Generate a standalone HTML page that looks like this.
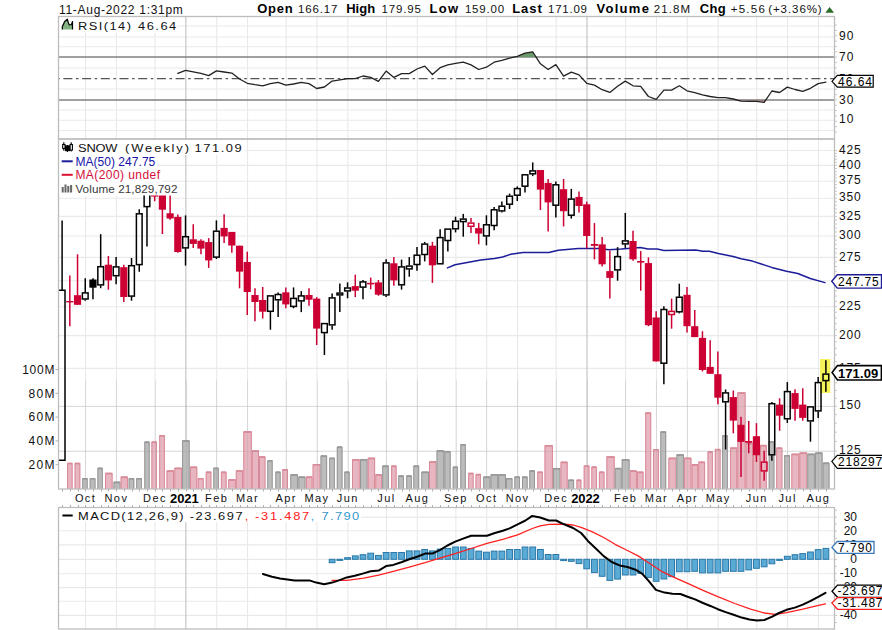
<!DOCTYPE html>
<html><head><meta charset="utf-8"><style>
html,body{margin:0;padding:0;background:#fff;width:882px;height:630px;overflow:hidden}
svg{display:block}
svg{font-family:"Liberation Sans",sans-serif}
</style></head><body>
<svg width="882" height="630" viewBox="0 0 882 630">
<rect width="882" height="630" fill="#fff"/>
<line x1="58.5" y1="26" x2="834.5" y2="26" stroke="#e9e9e9" stroke-width="1.1" />
<line x1="58.5" y1="37" x2="834.5" y2="37" stroke="#e9e9e9" stroke-width="1.1" />
<line x1="58.5" y1="46.8" x2="834.5" y2="46.8" stroke="#e9e9e9" stroke-width="1.1" />
<line x1="58.5" y1="68" x2="834.5" y2="68" stroke="#e9e9e9" stroke-width="1.1" />
<line x1="58.5" y1="89" x2="834.5" y2="89" stroke="#e9e9e9" stroke-width="1.1" />
<line x1="58.5" y1="110" x2="834.5" y2="110" stroke="#e9e9e9" stroke-width="1.1" />
<line x1="58.5" y1="120.3" x2="834.5" y2="120.3" stroke="#e9e9e9" stroke-width="1.1" />
<line x1="58.5" y1="130.5" x2="834.5" y2="130.5" stroke="#e9e9e9" stroke-width="1.1" />
<line x1="85.55" y1="16.5" x2="85.55" y2="139" stroke="#e9e9e9" stroke-width="1.1" />
<line x1="116.4" y1="16.5" x2="116.4" y2="139" stroke="#e9e9e9" stroke-width="1.1" />
<line x1="154.98" y1="16.5" x2="154.98" y2="139" stroke="#e9e9e9" stroke-width="1.1" />
<line x1="185.84" y1="16.5" x2="185.84" y2="139" stroke="#c6c6c6" stroke-width="1.2" />
<line x1="216.7" y1="16.5" x2="216.7" y2="139" stroke="#e9e9e9" stroke-width="1.1" />
<line x1="247.56" y1="16.5" x2="247.56" y2="139" stroke="#e9e9e9" stroke-width="1.1" />
<line x1="286.13" y1="16.5" x2="286.13" y2="139" stroke="#e9e9e9" stroke-width="1.1" />
<line x1="317" y1="16.5" x2="317" y2="139" stroke="#e9e9e9" stroke-width="1.1" />
<line x1="347.86" y1="16.5" x2="347.86" y2="139" stroke="#e9e9e9" stroke-width="1.1" />
<line x1="386.43" y1="16.5" x2="386.43" y2="139" stroke="#e9e9e9" stroke-width="1.1" />
<line x1="417.29" y1="16.5" x2="417.29" y2="139" stroke="#e9e9e9" stroke-width="1.1" />
<line x1="455.87" y1="16.5" x2="455.87" y2="139" stroke="#e9e9e9" stroke-width="1.1" />
<line x1="486.73" y1="16.5" x2="486.73" y2="139" stroke="#e9e9e9" stroke-width="1.1" />
<line x1="517.58" y1="16.5" x2="517.58" y2="139" stroke="#e9e9e9" stroke-width="1.1" />
<line x1="556.16" y1="16.5" x2="556.16" y2="139" stroke="#e9e9e9" stroke-width="1.1" />
<line x1="587.02" y1="16.5" x2="587.02" y2="139" stroke="#c6c6c6" stroke-width="1.2" />
<line x1="625.59" y1="16.5" x2="625.59" y2="139" stroke="#e9e9e9" stroke-width="1.1" />
<line x1="656.45" y1="16.5" x2="656.45" y2="139" stroke="#e9e9e9" stroke-width="1.1" />
<line x1="687.31" y1="16.5" x2="687.31" y2="139" stroke="#e9e9e9" stroke-width="1.1" />
<line x1="718.17" y1="16.5" x2="718.17" y2="139" stroke="#e9e9e9" stroke-width="1.1" />
<line x1="756.75" y1="16.5" x2="756.75" y2="139" stroke="#e9e9e9" stroke-width="1.1" />
<line x1="787.61" y1="16.5" x2="787.61" y2="139" stroke="#e9e9e9" stroke-width="1.1" />
<line x1="818.47" y1="16.5" x2="818.47" y2="139" stroke="#e9e9e9" stroke-width="1.1" />
<rect x="59" y="17" width="118" height="16" fill="#fff" stroke="none" stroke-width="1" />
<line x1="58.5" y1="57.1" x2="834.5" y2="57.1" stroke="#808080" stroke-width="1.5" />
<line x1="58.5" y1="99.9" x2="834.5" y2="99.9" stroke="#808080" stroke-width="1.5" />
<line x1="58.5" y1="78.6" x2="834.5" y2="78.6" stroke="#555" stroke-width="1.3" stroke-dasharray="9,3.6,2.5,3.6" stroke-dashoffset="13.8"/>
<polygon points="513,57.1 517.6,56.3 524.4,53.2 532.3,51.8 535,57.1" fill="#6a9a6a"/>
<polygon points="733,99.9 740.7,100.8 749,100.8 756.8,100.8 764.5,102.4 766,99.9" fill="#a06060" opacity="0.6"/>
<polyline points="177.82,73.4 185.54,70.4 193.25,71.8 200.97,73.4 208.69,75.6 216.4,70.9 224.11,72 231.83,73.1 239.54,79 247.26,83.3 254.97,84.7 262.69,85.8 270.41,83.6 278.12,82.4 285.83,85.1 293.55,84 301.26,82.4 308.98,83.6 316.69,88.5 324.41,87 332.12,81.1 339.84,79.9 347.56,78.6 355.27,78.6 362.99,76 370.7,77.4 378.42,81.3 386.13,71.1 393.85,77.4 401.56,73.6 409.28,73.6 416.99,69 424.71,66.1 432.42,74.5 440.13,67.7 447.85,64.9 455.56,63.4 463.28,62.2 471,64.9 478.71,69.5 486.43,67.2 494.14,62.2 501.86,60.4 509.57,58.1 517.28,56.3 525,53.2 532.72,51.8 540.43,63.8 548.14,69.5 555.86,64.6 563.57,76.1 571.29,72.2 579,74.9 586.72,83.3 594.44,85.1 602.15,89.7 609.87,92.4 617.58,86.3 625.29,81.1 633.01,85.8 640.73,86.3 648.44,96.5 656.15,99.4 663.87,90.1 671.59,90.1 679.3,85.8 687.01,90.8 694.73,92.6 702.45,94.9 710.16,96.5 717.88,97.6 725.59,97.6 733.31,99 741.02,101.2 748.74,101.3 756.45,101.3 764.16,102.4 771.88,91 779.6,92.5 787.31,87.1 795.02,89.5 802.74,91.3 810.46,88.3 818.17,83.6 825.88,82.1" fill="none" stroke="#222" stroke-width="1.3" stroke-linejoin="round" stroke-linecap="round" />
<line x1="58.5" y1="150.5" x2="834.5" y2="150.5" stroke="#e9e9e9" stroke-width="1.1" />
<line x1="58.5" y1="165.39" x2="834.5" y2="165.39" stroke="#e9e9e9" stroke-width="1.1" />
<line x1="58.5" y1="181.24" x2="834.5" y2="181.24" stroke="#e9e9e9" stroke-width="1.1" />
<line x1="58.5" y1="198.18" x2="834.5" y2="198.18" stroke="#e9e9e9" stroke-width="1.1" />
<line x1="58.5" y1="216.39" x2="834.5" y2="216.39" stroke="#e9e9e9" stroke-width="1.1" />
<line x1="58.5" y1="236.04" x2="834.5" y2="236.04" stroke="#e9e9e9" stroke-width="1.1" />
<line x1="58.5" y1="257.41" x2="834.5" y2="257.41" stroke="#e9e9e9" stroke-width="1.1" />
<line x1="58.5" y1="280.82" x2="834.5" y2="280.82" stroke="#e9e9e9" stroke-width="1.1" />
<line x1="58.5" y1="306.7" x2="834.5" y2="306.7" stroke="#e9e9e9" stroke-width="1.1" />
<line x1="58.5" y1="335.63" x2="834.5" y2="335.63" stroke="#e9e9e9" stroke-width="1.1" />
<line x1="58.5" y1="368.42" x2="834.5" y2="368.42" stroke="#e9e9e9" stroke-width="1.1" />
<line x1="58.5" y1="406.28" x2="834.5" y2="406.28" stroke="#e9e9e9" stroke-width="1.1" />
<line x1="58.5" y1="451.06" x2="834.5" y2="451.06" stroke="#e9e9e9" stroke-width="1.1" />
<line x1="85.55" y1="139" x2="85.55" y2="489" stroke="#e9e9e9" stroke-width="1.1" />
<line x1="116.4" y1="139" x2="116.4" y2="489" stroke="#e9e9e9" stroke-width="1.1" />
<line x1="154.98" y1="139" x2="154.98" y2="489" stroke="#e9e9e9" stroke-width="1.1" />
<line x1="185.84" y1="139" x2="185.84" y2="489" stroke="#c6c6c6" stroke-width="1.2" />
<line x1="216.7" y1="139" x2="216.7" y2="489" stroke="#e9e9e9" stroke-width="1.1" />
<line x1="247.56" y1="139" x2="247.56" y2="489" stroke="#e9e9e9" stroke-width="1.1" />
<line x1="286.13" y1="139" x2="286.13" y2="489" stroke="#e9e9e9" stroke-width="1.1" />
<line x1="317" y1="139" x2="317" y2="489" stroke="#e9e9e9" stroke-width="1.1" />
<line x1="347.86" y1="139" x2="347.86" y2="489" stroke="#e9e9e9" stroke-width="1.1" />
<line x1="386.43" y1="139" x2="386.43" y2="489" stroke="#e9e9e9" stroke-width="1.1" />
<line x1="417.29" y1="139" x2="417.29" y2="489" stroke="#e9e9e9" stroke-width="1.1" />
<line x1="455.87" y1="139" x2="455.87" y2="489" stroke="#e9e9e9" stroke-width="1.1" />
<line x1="486.73" y1="139" x2="486.73" y2="489" stroke="#e9e9e9" stroke-width="1.1" />
<line x1="517.58" y1="139" x2="517.58" y2="489" stroke="#e9e9e9" stroke-width="1.1" />
<line x1="556.16" y1="139" x2="556.16" y2="489" stroke="#e9e9e9" stroke-width="1.1" />
<line x1="587.02" y1="139" x2="587.02" y2="489" stroke="#c6c6c6" stroke-width="1.2" />
<line x1="625.59" y1="139" x2="625.59" y2="489" stroke="#e9e9e9" stroke-width="1.1" />
<line x1="656.45" y1="139" x2="656.45" y2="489" stroke="#e9e9e9" stroke-width="1.1" />
<line x1="687.31" y1="139" x2="687.31" y2="489" stroke="#e9e9e9" stroke-width="1.1" />
<line x1="718.17" y1="139" x2="718.17" y2="489" stroke="#e9e9e9" stroke-width="1.1" />
<line x1="756.75" y1="139" x2="756.75" y2="489" stroke="#e9e9e9" stroke-width="1.1" />
<line x1="787.61" y1="139" x2="787.61" y2="489" stroke="#e9e9e9" stroke-width="1.1" />
<line x1="818.47" y1="139" x2="818.47" y2="489" stroke="#e9e9e9" stroke-width="1.1" />
<rect x="67.1" y="462.8" width="5.5" height="26.2" fill="#e8b6c0" stroke="none" stroke-width="1" />
<path d="M67.6,489 V463.3 H72.1 V489" fill="none" stroke="#d98a98" stroke-width="1"/>
<line x1="67.6" y1="463.6" x2="72.1" y2="463.6" stroke="#d98a98" stroke-width="1.6" />
<rect x="74.6" y="462.8" width="5.7" height="26.2" fill="#e8b6c0" stroke="none" stroke-width="1" />
<path d="M75.1,489 V463.3 H79.8 V489" fill="none" stroke="#d98a98" stroke-width="1"/>
<line x1="75.1" y1="463.6" x2="79.8" y2="463.6" stroke="#d98a98" stroke-width="1.6" />
<rect x="82.2" y="478" width="5.5" height="11" fill="#bcbcbc" stroke="none" stroke-width="1" />
<path d="M82.7,489 V478.5 H87.2 V489" fill="none" stroke="#989898" stroke-width="1"/>
<line x1="82.7" y1="478.8" x2="87.2" y2="478.8" stroke="#989898" stroke-width="1.6" />
<rect x="89.7" y="478" width="5.8" height="11" fill="#bcbcbc" stroke="none" stroke-width="1" />
<path d="M90.2,489 V478.5 H95 V489" fill="none" stroke="#989898" stroke-width="1"/>
<line x1="90.2" y1="478.8" x2="95" y2="478.8" stroke="#989898" stroke-width="1.6" />
<rect x="97.4" y="467.7" width="5.4" height="21.3" fill="#bcbcbc" stroke="none" stroke-width="1" />
<path d="M97.9,489 V468.2 H102.3 V489" fill="none" stroke="#989898" stroke-width="1"/>
<line x1="97.9" y1="468.5" x2="102.3" y2="468.5" stroke="#989898" stroke-width="1.6" />
<rect x="105" y="472.8" width="7.6" height="16.2" fill="#e8b6c0" stroke="none" stroke-width="1" />
<path d="M105.5,489 V473.3 H112.1 V489" fill="none" stroke="#d98a98" stroke-width="1"/>
<line x1="105.5" y1="473.6" x2="112.1" y2="473.6" stroke="#d98a98" stroke-width="1.6" />
<rect x="113.4" y="481.7" width="7.2" height="7.3" fill="#bcbcbc" stroke="none" stroke-width="1" />
<path d="M113.9,489 V482.2 H120.1 V489" fill="none" stroke="#989898" stroke-width="1"/>
<line x1="113.9" y1="482.5" x2="120.1" y2="482.5" stroke="#989898" stroke-width="1.6" />
<rect x="120.6" y="476.5" width="7.3" height="12.5" fill="#e8b6c0" stroke="none" stroke-width="1" />
<path d="M121.1,489 V477 H127.4 V489" fill="none" stroke="#d98a98" stroke-width="1"/>
<line x1="121.1" y1="477.3" x2="127.4" y2="477.3" stroke="#d98a98" stroke-width="1.6" />
<rect x="128.6" y="478" width="5.7" height="11" fill="#bcbcbc" stroke="none" stroke-width="1" />
<path d="M129.1,489 V478.5 H133.8 V489" fill="none" stroke="#989898" stroke-width="1"/>
<line x1="129.1" y1="478.8" x2="133.8" y2="478.8" stroke="#989898" stroke-width="1.6" />
<rect x="136.2" y="478" width="5.7" height="11" fill="#bcbcbc" stroke="none" stroke-width="1" />
<path d="M136.7,489 V478.5 H141.4 V489" fill="none" stroke="#989898" stroke-width="1"/>
<line x1="136.7" y1="478.8" x2="141.4" y2="478.8" stroke="#989898" stroke-width="1.6" />
<rect x="144.3" y="441.5" width="5.4" height="47.5" fill="#bcbcbc" stroke="none" stroke-width="1" />
<path d="M144.8,489 V442 H149.2 V489" fill="none" stroke="#989898" stroke-width="1"/>
<line x1="144.8" y1="442.3" x2="149.2" y2="442.3" stroke="#989898" stroke-width="1.6" />
<rect x="151.4" y="441.5" width="5.5" height="47.5" fill="#e8b6c0" stroke="none" stroke-width="1" />
<path d="M151.9,489 V442 H156.4 V489" fill="none" stroke="#d98a98" stroke-width="1"/>
<line x1="151.9" y1="442.3" x2="156.4" y2="442.3" stroke="#d98a98" stroke-width="1.6" />
<rect x="159.2" y="435.1" width="5.7" height="53.9" fill="#e8b6c0" stroke="none" stroke-width="1" />
<path d="M159.7,489 V435.6 H164.4 V489" fill="none" stroke="#d98a98" stroke-width="1"/>
<line x1="159.7" y1="435.9" x2="164.4" y2="435.9" stroke="#d98a98" stroke-width="1.6" />
<rect x="166.5" y="470.3" width="7.5" height="18.7" fill="#e8b6c0" stroke="none" stroke-width="1" />
<path d="M167,489 V470.8 H173.5 V489" fill="none" stroke="#d98a98" stroke-width="1"/>
<line x1="167" y1="471.1" x2="173.5" y2="471.1" stroke="#d98a98" stroke-width="1.6" />
<rect x="174.3" y="467.7" width="7.8" height="21.3" fill="#e8b6c0" stroke="none" stroke-width="1" />
<path d="M174.8,489 V468.2 H181.6 V489" fill="none" stroke="#d98a98" stroke-width="1"/>
<line x1="174.8" y1="468.5" x2="181.6" y2="468.5" stroke="#d98a98" stroke-width="1.6" />
<rect x="182.1" y="440.3" width="7.6" height="48.7" fill="#bcbcbc" stroke="none" stroke-width="1" />
<path d="M182.6,489 V440.8 H189.2 V489" fill="none" stroke="#989898" stroke-width="1"/>
<line x1="182.6" y1="441.1" x2="189.2" y2="441.1" stroke="#989898" stroke-width="1.6" />
<rect x="190" y="466.6" width="7.3" height="22.4" fill="#e8b6c0" stroke="none" stroke-width="1" />
<path d="M190.5,489 V467.1 H196.8 V489" fill="none" stroke="#d98a98" stroke-width="1"/>
<line x1="190.5" y1="467.4" x2="196.8" y2="467.4" stroke="#d98a98" stroke-width="1.6" />
<rect x="197.7" y="478" width="6" height="11" fill="#e8b6c0" stroke="none" stroke-width="1" />
<path d="M198.2,489 V478.5 H203.2 V489" fill="none" stroke="#d98a98" stroke-width="1"/>
<line x1="198.2" y1="478.8" x2="203.2" y2="478.8" stroke="#d98a98" stroke-width="1.6" />
<rect x="205.7" y="471.6" width="5.7" height="17.4" fill="#e8b6c0" stroke="none" stroke-width="1" />
<path d="M206.2,489 V472.1 H210.9 V489" fill="none" stroke="#d98a98" stroke-width="1"/>
<line x1="206.2" y1="472.4" x2="210.9" y2="472.4" stroke="#d98a98" stroke-width="1.6" />
<rect x="213.3" y="467.7" width="5.5" height="21.3" fill="#bcbcbc" stroke="none" stroke-width="1" />
<path d="M213.8,489 V468.2 H218.3 V489" fill="none" stroke="#989898" stroke-width="1"/>
<line x1="213.8" y1="468.5" x2="218.3" y2="468.5" stroke="#989898" stroke-width="1.6" />
<rect x="220.9" y="471.6" width="5.7" height="17.4" fill="#e8b6c0" stroke="none" stroke-width="1" />
<path d="M221.4,489 V472.1 H226.1 V489" fill="none" stroke="#d98a98" stroke-width="1"/>
<line x1="221.4" y1="472.4" x2="226.1" y2="472.4" stroke="#d98a98" stroke-width="1.6" />
<rect x="228.2" y="479.2" width="7.6" height="9.8" fill="#e8b6c0" stroke="none" stroke-width="1" />
<path d="M228.7,489 V479.7 H235.3 V489" fill="none" stroke="#d98a98" stroke-width="1"/>
<line x1="228.7" y1="480" x2="235.3" y2="480" stroke="#d98a98" stroke-width="1.6" />
<rect x="235.8" y="470.3" width="7.2" height="18.7" fill="#e8b6c0" stroke="none" stroke-width="1" />
<path d="M236.3,489 V470.8 H242.5 V489" fill="none" stroke="#d98a98" stroke-width="1"/>
<line x1="236.3" y1="471.1" x2="242.5" y2="471.1" stroke="#d98a98" stroke-width="1.6" />
<rect x="243.3" y="431.2" width="8.5" height="57.8" fill="#e8b6c0" stroke="none" stroke-width="1" />
<path d="M243.8,489 V431.7 H251.3 V489" fill="none" stroke="#d98a98" stroke-width="1"/>
<line x1="243.8" y1="432" x2="251.3" y2="432" stroke="#d98a98" stroke-width="1.6" />
<rect x="251.8" y="450.3" width="7.2" height="38.7" fill="#e8b6c0" stroke="none" stroke-width="1" />
<path d="M252.3,489 V450.8 H258.5 V489" fill="none" stroke="#d98a98" stroke-width="1"/>
<line x1="252.3" y1="451.1" x2="258.5" y2="451.1" stroke="#d98a98" stroke-width="1.6" />
<rect x="259" y="456.3" width="6.5" height="32.7" fill="#e8b6c0" stroke="none" stroke-width="1" />
<path d="M259.5,489 V456.8 H265 V489" fill="none" stroke="#d98a98" stroke-width="1"/>
<line x1="259.5" y1="457.1" x2="265" y2="457.1" stroke="#d98a98" stroke-width="1.6" />
<rect x="267.3" y="460.2" width="5.4" height="28.8" fill="#bcbcbc" stroke="none" stroke-width="1" />
<path d="M267.8,489 V460.7 H272.2 V489" fill="none" stroke="#989898" stroke-width="1"/>
<line x1="267.8" y1="461" x2="272.2" y2="461" stroke="#989898" stroke-width="1.6" />
<rect x="275.3" y="471.6" width="5.4" height="17.4" fill="#bcbcbc" stroke="none" stroke-width="1" />
<path d="M275.8,489 V472.1 H280.2 V489" fill="none" stroke="#989898" stroke-width="1"/>
<line x1="275.8" y1="472.4" x2="280.2" y2="472.4" stroke="#989898" stroke-width="1.6" />
<rect x="282.3" y="469.1" width="5.7" height="19.9" fill="#e8b6c0" stroke="none" stroke-width="1" />
<path d="M282.8,489 V469.6 H287.5 V489" fill="none" stroke="#d98a98" stroke-width="1"/>
<line x1="282.8" y1="469.9" x2="287.5" y2="469.9" stroke="#d98a98" stroke-width="1.6" />
<rect x="290.3" y="474.2" width="7.6" height="14.8" fill="#bcbcbc" stroke="none" stroke-width="1" />
<path d="M290.8,489 V474.7 H297.4 V489" fill="none" stroke="#989898" stroke-width="1"/>
<line x1="290.8" y1="475" x2="297.4" y2="475" stroke="#989898" stroke-width="1.6" />
<rect x="298.3" y="476.5" width="7.2" height="12.5" fill="#bcbcbc" stroke="none" stroke-width="1" />
<path d="M298.8,489 V477 H305 V489" fill="none" stroke="#989898" stroke-width="1"/>
<line x1="298.8" y1="477.3" x2="305" y2="477.3" stroke="#989898" stroke-width="1.6" />
<rect x="305.9" y="476.5" width="6.7" height="12.5" fill="#e8b6c0" stroke="none" stroke-width="1" />
<path d="M306.4,489 V477 H312.1 V489" fill="none" stroke="#d98a98" stroke-width="1"/>
<line x1="306.4" y1="477.3" x2="312.1" y2="477.3" stroke="#d98a98" stroke-width="1.6" />
<rect x="312.6" y="464" width="7.9" height="25" fill="#e8b6c0" stroke="none" stroke-width="1" />
<path d="M313.1,489 V464.5 H320 V489" fill="none" stroke="#d98a98" stroke-width="1"/>
<line x1="313.1" y1="464.8" x2="320" y2="464.8" stroke="#d98a98" stroke-width="1.6" />
<rect x="320.5" y="455.4" width="6.6" height="33.6" fill="#bcbcbc" stroke="none" stroke-width="1" />
<path d="M321,489 V455.9 H326.6 V489" fill="none" stroke="#989898" stroke-width="1"/>
<line x1="321" y1="456.2" x2="326.6" y2="456.2" stroke="#989898" stroke-width="1.6" />
<rect x="329.2" y="457.7" width="5.7" height="31.3" fill="#bcbcbc" stroke="none" stroke-width="1" />
<path d="M329.7,489 V458.2 H334.4 V489" fill="none" stroke="#989898" stroke-width="1"/>
<line x1="329.7" y1="458.5" x2="334.4" y2="458.5" stroke="#989898" stroke-width="1.6" />
<rect x="336.8" y="446.5" width="5.7" height="42.5" fill="#bcbcbc" stroke="none" stroke-width="1" />
<path d="M337.3,489 V447 H342 V489" fill="none" stroke="#989898" stroke-width="1"/>
<line x1="337.3" y1="447.3" x2="342" y2="447.3" stroke="#989898" stroke-width="1.6" />
<rect x="344.3" y="471.6" width="5.4" height="17.4" fill="#bcbcbc" stroke="none" stroke-width="1" />
<path d="M344.8,489 V472.1 H349.2 V489" fill="none" stroke="#989898" stroke-width="1"/>
<line x1="344.8" y1="472.4" x2="349.2" y2="472.4" stroke="#989898" stroke-width="1.6" />
<rect x="352" y="459.1" width="7.7" height="29.9" fill="#e8b6c0" stroke="none" stroke-width="1" />
<path d="M352.5,489 V459.6 H359.2 V489" fill="none" stroke="#d98a98" stroke-width="1"/>
<line x1="352.5" y1="459.9" x2="359.2" y2="459.9" stroke="#d98a98" stroke-width="1.6" />
<rect x="360" y="459.1" width="7.7" height="29.9" fill="#bcbcbc" stroke="none" stroke-width="1" />
<path d="M360.5,489 V459.6 H367.2 V489" fill="none" stroke="#989898" stroke-width="1"/>
<line x1="360.5" y1="459.9" x2="367.2" y2="459.9" stroke="#989898" stroke-width="1.6" />
<rect x="367.7" y="457.7" width="7.4" height="31.3" fill="#e8b6c0" stroke="none" stroke-width="1" />
<path d="M368.2,489 V458.2 H374.6 V489" fill="none" stroke="#d98a98" stroke-width="1"/>
<line x1="368.2" y1="458.5" x2="374.6" y2="458.5" stroke="#d98a98" stroke-width="1.6" />
<rect x="375.3" y="474.2" width="6.9" height="14.8" fill="#e8b6c0" stroke="none" stroke-width="1" />
<path d="M375.8,489 V474.7 H381.7 V489" fill="none" stroke="#d98a98" stroke-width="1"/>
<line x1="375.8" y1="475" x2="381.7" y2="475" stroke="#d98a98" stroke-width="1.6" />
<rect x="382.2" y="465.5" width="6.6" height="23.5" fill="#bcbcbc" stroke="none" stroke-width="1" />
<path d="M382.7,489 V466 H388.3 V489" fill="none" stroke="#989898" stroke-width="1"/>
<line x1="382.7" y1="466.3" x2="388.3" y2="466.3" stroke="#989898" stroke-width="1.6" />
<rect x="391.1" y="465.5" width="5.5" height="23.5" fill="#e8b6c0" stroke="none" stroke-width="1" />
<path d="M391.6,489 V466 H396.1 V489" fill="none" stroke="#d98a98" stroke-width="1"/>
<line x1="391.6" y1="466.3" x2="396.1" y2="466.3" stroke="#d98a98" stroke-width="1.6" />
<rect x="398.2" y="475.4" width="5.7" height="13.6" fill="#bcbcbc" stroke="none" stroke-width="1" />
<path d="M398.7,489 V475.9 H403.4 V489" fill="none" stroke="#989898" stroke-width="1"/>
<line x1="398.7" y1="476.2" x2="403.4" y2="476.2" stroke="#989898" stroke-width="1.6" />
<rect x="406.2" y="475.4" width="5.7" height="13.6" fill="#bcbcbc" stroke="none" stroke-width="1" />
<path d="M406.7,489 V475.9 H411.4 V489" fill="none" stroke="#989898" stroke-width="1"/>
<line x1="406.7" y1="476.2" x2="411.4" y2="476.2" stroke="#989898" stroke-width="1.6" />
<rect x="413.3" y="465.5" width="5.9" height="23.5" fill="#bcbcbc" stroke="none" stroke-width="1" />
<path d="M413.8,489 V466 H418.7 V489" fill="none" stroke="#989898" stroke-width="1"/>
<line x1="413.8" y1="466.3" x2="418.7" y2="466.3" stroke="#989898" stroke-width="1.6" />
<rect x="421.3" y="471.6" width="7.7" height="17.4" fill="#bcbcbc" stroke="none" stroke-width="1" />
<path d="M421.8,489 V472.1 H428.5 V489" fill="none" stroke="#989898" stroke-width="1"/>
<line x1="421.8" y1="472.4" x2="428.5" y2="472.4" stroke="#989898" stroke-width="1.6" />
<rect x="429" y="461.3" width="7.5" height="27.7" fill="#e8b6c0" stroke="none" stroke-width="1" />
<path d="M429.5,489 V461.8 H436 V489" fill="none" stroke="#d98a98" stroke-width="1"/>
<line x1="429.5" y1="462.1" x2="436" y2="462.1" stroke="#d98a98" stroke-width="1.6" />
<rect x="436.5" y="450.3" width="7.8" height="38.7" fill="#bcbcbc" stroke="none" stroke-width="1" />
<path d="M437,489 V450.8 H443.8 V489" fill="none" stroke="#989898" stroke-width="1"/>
<line x1="437" y1="451.1" x2="443.8" y2="451.1" stroke="#989898" stroke-width="1.6" />
<rect x="444.3" y="451.1" width="6.4" height="37.9" fill="#bcbcbc" stroke="none" stroke-width="1" />
<path d="M444.8,489 V451.6 H450.2 V489" fill="none" stroke="#989898" stroke-width="1"/>
<line x1="444.8" y1="451.9" x2="450.2" y2="451.9" stroke="#989898" stroke-width="1.6" />
<rect x="452.7" y="466.6" width="5.3" height="22.4" fill="#bcbcbc" stroke="none" stroke-width="1" />
<path d="M453.2,489 V467.1 H457.5 V489" fill="none" stroke="#989898" stroke-width="1"/>
<line x1="453.2" y1="467.4" x2="457.5" y2="467.4" stroke="#989898" stroke-width="1.6" />
<rect x="460.3" y="444" width="5.5" height="45" fill="#bcbcbc" stroke="none" stroke-width="1" />
<path d="M460.8,489 V444.5 H465.3 V489" fill="none" stroke="#989898" stroke-width="1"/>
<line x1="460.8" y1="444.8" x2="465.3" y2="444.8" stroke="#989898" stroke-width="1.6" />
<rect x="468.1" y="472.8" width="5.5" height="16.2" fill="#e8b6c0" stroke="none" stroke-width="1" />
<path d="M468.6,489 V473.3 H473.1 V489" fill="none" stroke="#d98a98" stroke-width="1"/>
<line x1="468.6" y1="473.6" x2="473.1" y2="473.6" stroke="#d98a98" stroke-width="1.6" />
<rect x="475.5" y="473.9" width="5.4" height="15.1" fill="#e8b6c0" stroke="none" stroke-width="1" />
<path d="M476,489 V474.4 H480.4 V489" fill="none" stroke="#d98a98" stroke-width="1"/>
<line x1="476" y1="474.7" x2="480.4" y2="474.7" stroke="#d98a98" stroke-width="1.6" />
<rect x="483.2" y="476.5" width="7.3" height="12.5" fill="#bcbcbc" stroke="none" stroke-width="1" />
<path d="M483.7,489 V477 H490 V489" fill="none" stroke="#989898" stroke-width="1"/>
<line x1="483.7" y1="477.3" x2="490" y2="477.3" stroke="#989898" stroke-width="1.6" />
<rect x="490.5" y="474.2" width="7.7" height="14.8" fill="#bcbcbc" stroke="none" stroke-width="1" />
<path d="M491,489 V474.7 H497.7 V489" fill="none" stroke="#989898" stroke-width="1"/>
<line x1="491" y1="475" x2="497.7" y2="475" stroke="#989898" stroke-width="1.6" />
<rect x="498.2" y="474.2" width="7.8" height="14.8" fill="#bcbcbc" stroke="none" stroke-width="1" />
<path d="M498.7,489 V474.7 H505.5 V489" fill="none" stroke="#989898" stroke-width="1"/>
<line x1="498.7" y1="475" x2="505.5" y2="475" stroke="#989898" stroke-width="1.6" />
<rect x="506" y="478" width="6.5" height="11" fill="#bcbcbc" stroke="none" stroke-width="1" />
<path d="M506.5,489 V478.5 H512 V489" fill="none" stroke="#989898" stroke-width="1"/>
<line x1="506.5" y1="478.8" x2="512" y2="478.8" stroke="#989898" stroke-width="1.6" />
<rect x="514.3" y="476.5" width="5.7" height="12.5" fill="#bcbcbc" stroke="none" stroke-width="1" />
<path d="M514.8,489 V477 H519.5 V489" fill="none" stroke="#989898" stroke-width="1"/>
<line x1="514.8" y1="477.3" x2="519.5" y2="477.3" stroke="#989898" stroke-width="1.6" />
<rect x="522" y="476.5" width="5.7" height="12.5" fill="#bcbcbc" stroke="none" stroke-width="1" />
<path d="M522.5,489 V477 H527.2 V489" fill="none" stroke="#989898" stroke-width="1"/>
<line x1="522.5" y1="477.3" x2="527.2" y2="477.3" stroke="#989898" stroke-width="1.6" />
<rect x="529.3" y="470.3" width="5.7" height="18.7" fill="#bcbcbc" stroke="none" stroke-width="1" />
<path d="M529.8,489 V470.8 H534.5 V489" fill="none" stroke="#989898" stroke-width="1"/>
<line x1="529.8" y1="471.1" x2="534.5" y2="471.1" stroke="#989898" stroke-width="1.6" />
<rect x="537.3" y="471.6" width="5.5" height="17.4" fill="#e8b6c0" stroke="none" stroke-width="1" />
<path d="M537.8,489 V472.1 H542.3 V489" fill="none" stroke="#d98a98" stroke-width="1"/>
<line x1="537.8" y1="472.4" x2="542.3" y2="472.4" stroke="#d98a98" stroke-width="1.6" />
<rect x="544.5" y="445.1" width="8.4" height="43.9" fill="#e8b6c0" stroke="none" stroke-width="1" />
<path d="M545,489 V445.6 H552.4 V489" fill="none" stroke="#d98a98" stroke-width="1"/>
<line x1="545" y1="445.9" x2="552.4" y2="445.9" stroke="#d98a98" stroke-width="1.6" />
<rect x="552.9" y="468" width="7.6" height="21" fill="#bcbcbc" stroke="none" stroke-width="1" />
<path d="M553.4,489 V468.5 H560 V489" fill="none" stroke="#989898" stroke-width="1"/>
<line x1="553.4" y1="468.8" x2="560" y2="468.8" stroke="#989898" stroke-width="1.6" />
<rect x="560.5" y="461.7" width="7.2" height="27.3" fill="#e8b6c0" stroke="none" stroke-width="1" />
<path d="M561,489 V462.2 H567.2 V489" fill="none" stroke="#d98a98" stroke-width="1"/>
<line x1="561" y1="462.5" x2="567.2" y2="462.5" stroke="#d98a98" stroke-width="1.6" />
<rect x="568.2" y="479.6" width="5.9" height="9.4" fill="#bcbcbc" stroke="none" stroke-width="1" />
<path d="M568.7,489 V480.1 H573.6 V489" fill="none" stroke="#989898" stroke-width="1"/>
<line x1="568.7" y1="480.4" x2="573.6" y2="480.4" stroke="#989898" stroke-width="1.6" />
<rect x="576.4" y="479.6" width="5" height="9.4" fill="#e8b6c0" stroke="none" stroke-width="1" />
<path d="M576.9,489 V480.1 H580.9 V489" fill="none" stroke="#d98a98" stroke-width="1"/>
<line x1="576.9" y1="480.4" x2="580.9" y2="480.4" stroke="#d98a98" stroke-width="1.6" />
<rect x="583.7" y="465.5" width="5.8" height="23.5" fill="#e8b6c0" stroke="none" stroke-width="1" />
<path d="M584.2,489 V466 H589 V489" fill="none" stroke="#d98a98" stroke-width="1"/>
<line x1="584.2" y1="466.3" x2="589" y2="466.3" stroke="#d98a98" stroke-width="1.6" />
<rect x="591.3" y="466.5" width="5.6" height="22.5" fill="#e8b6c0" stroke="none" stroke-width="1" />
<path d="M591.8,489 V467 H596.4 V489" fill="none" stroke="#d98a98" stroke-width="1"/>
<line x1="591.8" y1="467.3" x2="596.4" y2="467.3" stroke="#d98a98" stroke-width="1.6" />
<rect x="598.9" y="471.6" width="5.6" height="17.4" fill="#e8b6c0" stroke="none" stroke-width="1" />
<path d="M599.4,489 V472.1 H604 V489" fill="none" stroke="#d98a98" stroke-width="1"/>
<line x1="599.4" y1="472.4" x2="604" y2="472.4" stroke="#d98a98" stroke-width="1.6" />
<rect x="606.4" y="456.3" width="8.3" height="32.7" fill="#e8b6c0" stroke="none" stroke-width="1" />
<path d="M606.9,489 V456.8 H614.2 V489" fill="none" stroke="#d98a98" stroke-width="1"/>
<line x1="606.9" y1="457.1" x2="614.2" y2="457.1" stroke="#d98a98" stroke-width="1.6" />
<rect x="614.7" y="467.9" width="7" height="21.1" fill="#bcbcbc" stroke="none" stroke-width="1" />
<path d="M615.2,489 V468.4 H621.2 V489" fill="none" stroke="#989898" stroke-width="1"/>
<line x1="615.2" y1="468.7" x2="621.2" y2="468.7" stroke="#989898" stroke-width="1.6" />
<rect x="621.7" y="459.2" width="7.9" height="29.8" fill="#bcbcbc" stroke="none" stroke-width="1" />
<path d="M622.2,489 V459.7 H629.1 V489" fill="none" stroke="#989898" stroke-width="1"/>
<line x1="622.2" y1="460" x2="629.1" y2="460" stroke="#989898" stroke-width="1.6" />
<rect x="629.6" y="470.4" width="7.3" height="18.6" fill="#e8b6c0" stroke="none" stroke-width="1" />
<path d="M630.1,489 V470.9 H636.4 V489" fill="none" stroke="#d98a98" stroke-width="1"/>
<line x1="630.1" y1="471.2" x2="636.4" y2="471.2" stroke="#d98a98" stroke-width="1.6" />
<rect x="636.9" y="471.6" width="6.7" height="17.4" fill="#e8b6c0" stroke="none" stroke-width="1" />
<path d="M637.4,489 V472.1 H643.1 V489" fill="none" stroke="#d98a98" stroke-width="1"/>
<line x1="637.4" y1="472.4" x2="643.1" y2="472.4" stroke="#d98a98" stroke-width="1.6" />
<rect x="645.2" y="412.4" width="6" height="76.6" fill="#e8b6c0" stroke="none" stroke-width="1" />
<path d="M645.7,489 V412.9 H650.7 V489" fill="none" stroke="#d98a98" stroke-width="1"/>
<line x1="645.7" y1="413.2" x2="650.7" y2="413.2" stroke="#d98a98" stroke-width="1.6" />
<rect x="653" y="449" width="5.9" height="40" fill="#e8b6c0" stroke="none" stroke-width="1" />
<path d="M653.5,489 V449.5 H658.4 V489" fill="none" stroke="#d98a98" stroke-width="1"/>
<line x1="653.5" y1="449.8" x2="658.4" y2="449.8" stroke="#d98a98" stroke-width="1.6" />
<rect x="660.3" y="431.4" width="5.9" height="57.6" fill="#bcbcbc" stroke="none" stroke-width="1" />
<path d="M660.8,489 V431.9 H665.7 V489" fill="none" stroke="#989898" stroke-width="1"/>
<line x1="660.8" y1="432.2" x2="665.7" y2="432.2" stroke="#989898" stroke-width="1.6" />
<rect x="668.4" y="457.7" width="8" height="31.3" fill="#e8b6c0" stroke="none" stroke-width="1" />
<path d="M668.9,489 V458.2 H675.9 V489" fill="none" stroke="#d98a98" stroke-width="1"/>
<line x1="668.9" y1="458.5" x2="675.9" y2="458.5" stroke="#d98a98" stroke-width="1.6" />
<rect x="676.4" y="454.3" width="7.5" height="34.7" fill="#bcbcbc" stroke="none" stroke-width="1" />
<path d="M676.9,489 V454.8 H683.4 V489" fill="none" stroke="#989898" stroke-width="1"/>
<line x1="676.9" y1="455.1" x2="683.4" y2="455.1" stroke="#989898" stroke-width="1.6" />
<rect x="683.9" y="457.7" width="7.6" height="31.3" fill="#e8b6c0" stroke="none" stroke-width="1" />
<path d="M684.4,489 V458.2 H691 V489" fill="none" stroke="#d98a98" stroke-width="1"/>
<line x1="684.4" y1="458.5" x2="691" y2="458.5" stroke="#d98a98" stroke-width="1.6" />
<rect x="691.5" y="464.2" width="6.8" height="24.8" fill="#e8b6c0" stroke="none" stroke-width="1" />
<path d="M692,489 V464.7 H697.8 V489" fill="none" stroke="#d98a98" stroke-width="1"/>
<line x1="692" y1="465" x2="697.8" y2="465" stroke="#d98a98" stroke-width="1.6" />
<rect x="698.3" y="461.6" width="6.8" height="27.4" fill="#e8b6c0" stroke="none" stroke-width="1" />
<path d="M698.8,489 V462.1 H704.6 V489" fill="none" stroke="#d98a98" stroke-width="1"/>
<line x1="698.8" y1="462.4" x2="704.6" y2="462.4" stroke="#d98a98" stroke-width="1.6" />
<rect x="707.5" y="451.4" width="5.4" height="37.6" fill="#e8b6c0" stroke="none" stroke-width="1" />
<path d="M708,489 V451.9 H712.4 V489" fill="none" stroke="#d98a98" stroke-width="1"/>
<line x1="708" y1="452.2" x2="712.4" y2="452.2" stroke="#d98a98" stroke-width="1.6" />
<rect x="714.8" y="448.9" width="5.8" height="40.1" fill="#e8b6c0" stroke="none" stroke-width="1" />
<path d="M715.3,489 V449.4 H720.1 V489" fill="none" stroke="#d98a98" stroke-width="1"/>
<line x1="715.3" y1="449.7" x2="720.1" y2="449.7" stroke="#d98a98" stroke-width="1.6" />
<rect x="722.1" y="435.3" width="5.8" height="53.7" fill="#bcbcbc" stroke="none" stroke-width="1" />
<path d="M722.6,489 V435.8 H727.4 V489" fill="none" stroke="#989898" stroke-width="1"/>
<line x1="722.6" y1="436.1" x2="727.4" y2="436.1" stroke="#989898" stroke-width="1.6" />
<rect x="730" y="447.5" width="7.3" height="41.5" fill="#e8b6c0" stroke="none" stroke-width="1" />
<path d="M730.5,489 V448 H736.8 V489" fill="none" stroke="#d98a98" stroke-width="1"/>
<line x1="730.5" y1="448.3" x2="736.8" y2="448.3" stroke="#d98a98" stroke-width="1.6" />
<rect x="737.3" y="392.3" width="8.3" height="96.7" fill="#e8b6c0" stroke="none" stroke-width="1" />
<path d="M737.8,489 V392.8 H745.1 V489" fill="none" stroke="#d98a98" stroke-width="1"/>
<line x1="737.8" y1="393.1" x2="745.1" y2="393.1" stroke="#d98a98" stroke-width="1.6" />
<rect x="745.6" y="443" width="7.5" height="46" fill="#e8b6c0" stroke="none" stroke-width="1" />
<path d="M746.1,489 V443.5 H752.6 V489" fill="none" stroke="#d98a98" stroke-width="1"/>
<line x1="746.1" y1="443.8" x2="752.6" y2="443.8" stroke="#d98a98" stroke-width="1.6" />
<rect x="753.1" y="444" width="6.9" height="45" fill="#e8b6c0" stroke="none" stroke-width="1" />
<path d="M753.6,489 V444.5 H759.5 V489" fill="none" stroke="#d98a98" stroke-width="1"/>
<line x1="753.6" y1="444.8" x2="759.5" y2="444.8" stroke="#d98a98" stroke-width="1.6" />
<rect x="760" y="444.9" width="6.8" height="44.1" fill="#e8b6c0" stroke="none" stroke-width="1" />
<path d="M760.5,489 V445.4 H766.3 V489" fill="none" stroke="#d98a98" stroke-width="1"/>
<line x1="760.5" y1="445.7" x2="766.3" y2="445.7" stroke="#d98a98" stroke-width="1.6" />
<rect x="768.7" y="441.3" width="5.7" height="47.7" fill="#bcbcbc" stroke="none" stroke-width="1" />
<path d="M769.2,489 V441.8 H773.9 V489" fill="none" stroke="#989898" stroke-width="1"/>
<line x1="769.2" y1="442.1" x2="773.9" y2="442.1" stroke="#989898" stroke-width="1.6" />
<rect x="776.2" y="447.5" width="6.2" height="41.5" fill="#e8b6c0" stroke="none" stroke-width="1" />
<path d="M776.7,489 V448 H781.9 V489" fill="none" stroke="#d98a98" stroke-width="1"/>
<line x1="776.7" y1="448.3" x2="781.9" y2="448.3" stroke="#d98a98" stroke-width="1.6" />
<rect x="784.2" y="455" width="5.8" height="34" fill="#bcbcbc" stroke="none" stroke-width="1" />
<path d="M784.7,489 V455.5 H789.5 V489" fill="none" stroke="#989898" stroke-width="1"/>
<line x1="784.7" y1="455.8" x2="789.5" y2="455.8" stroke="#989898" stroke-width="1.6" />
<rect x="791.3" y="453.7" width="8" height="35.3" fill="#e8b6c0" stroke="none" stroke-width="1" />
<path d="M791.8,489 V454.2 H798.8 V489" fill="none" stroke="#d98a98" stroke-width="1"/>
<line x1="791.8" y1="454.5" x2="798.8" y2="454.5" stroke="#d98a98" stroke-width="1.6" />
<rect x="799.3" y="452.5" width="8" height="36.5" fill="#e8b6c0" stroke="none" stroke-width="1" />
<path d="M799.8,489 V453 H806.8 V489" fill="none" stroke="#d98a98" stroke-width="1"/>
<line x1="799.8" y1="453.3" x2="806.8" y2="453.3" stroke="#d98a98" stroke-width="1.6" />
<rect x="807.3" y="453.7" width="7.6" height="35.3" fill="#bcbcbc" stroke="none" stroke-width="1" />
<path d="M807.8,489 V454.2 H814.4 V489" fill="none" stroke="#989898" stroke-width="1"/>
<line x1="807.8" y1="454.5" x2="814.4" y2="454.5" stroke="#989898" stroke-width="1.6" />
<rect x="814.9" y="452.5" width="7.7" height="36.5" fill="#bcbcbc" stroke="none" stroke-width="1" />
<path d="M815.4,489 V453 H822.1 V489" fill="none" stroke="#989898" stroke-width="1"/>
<line x1="815.4" y1="453.3" x2="822.1" y2="453.3" stroke="#989898" stroke-width="1.6" />
<rect x="822.6" y="462.6" width="6.9" height="26.4" fill="#bcbcbc" stroke="none" stroke-width="1" />
<path d="M823.1,489 V463.1 H829 V489" fill="none" stroke="#989898" stroke-width="1"/>
<line x1="823.1" y1="463.4" x2="829" y2="463.4" stroke="#989898" stroke-width="1.6" />
<line x1="58.5" y1="406.5" x2="834.5" y2="406.5" stroke="#999" stroke-width="0.6" opacity="0.35"/>
<line x1="58.5" y1="451.5" x2="834.5" y2="451.5" stroke="#999" stroke-width="0.6" opacity="0.35"/>
<line x1="85.5" y1="380" x2="85.5" y2="489" stroke="#999" stroke-width="0.6" opacity="0.35"/>
<line x1="116.5" y1="380" x2="116.5" y2="489" stroke="#999" stroke-width="0.6" opacity="0.35"/>
<line x1="155.5" y1="380" x2="155.5" y2="489" stroke="#999" stroke-width="0.6" opacity="0.35"/>
<line x1="186.5" y1="380" x2="186.5" y2="489" stroke="#999" stroke-width="0.6" opacity="0.35"/>
<line x1="216.5" y1="380" x2="216.5" y2="489" stroke="#999" stroke-width="0.6" opacity="0.35"/>
<line x1="247.5" y1="380" x2="247.5" y2="489" stroke="#999" stroke-width="0.6" opacity="0.35"/>
<line x1="286.5" y1="380" x2="286.5" y2="489" stroke="#999" stroke-width="0.6" opacity="0.35"/>
<line x1="317.5" y1="380" x2="317.5" y2="489" stroke="#999" stroke-width="0.6" opacity="0.35"/>
<line x1="348.5" y1="380" x2="348.5" y2="489" stroke="#999" stroke-width="0.6" opacity="0.35"/>
<line x1="386.5" y1="380" x2="386.5" y2="489" stroke="#999" stroke-width="0.6" opacity="0.35"/>
<line x1="417.5" y1="380" x2="417.5" y2="489" stroke="#999" stroke-width="0.6" opacity="0.35"/>
<line x1="456.5" y1="380" x2="456.5" y2="489" stroke="#999" stroke-width="0.6" opacity="0.35"/>
<line x1="486.5" y1="380" x2="486.5" y2="489" stroke="#999" stroke-width="0.6" opacity="0.35"/>
<line x1="517.5" y1="380" x2="517.5" y2="489" stroke="#999" stroke-width="0.6" opacity="0.35"/>
<line x1="556.5" y1="380" x2="556.5" y2="489" stroke="#999" stroke-width="0.6" opacity="0.35"/>
<line x1="587.5" y1="380" x2="587.5" y2="489" stroke="#999" stroke-width="0.6" opacity="0.35"/>
<line x1="625.5" y1="380" x2="625.5" y2="489" stroke="#999" stroke-width="0.6" opacity="0.35"/>
<line x1="656.5" y1="380" x2="656.5" y2="489" stroke="#999" stroke-width="0.6" opacity="0.35"/>
<line x1="687.5" y1="380" x2="687.5" y2="489" stroke="#999" stroke-width="0.6" opacity="0.35"/>
<line x1="718.5" y1="380" x2="718.5" y2="489" stroke="#999" stroke-width="0.6" opacity="0.35"/>
<line x1="756.5" y1="380" x2="756.5" y2="489" stroke="#999" stroke-width="0.6" opacity="0.35"/>
<line x1="787.5" y1="380" x2="787.5" y2="489" stroke="#999" stroke-width="0.6" opacity="0.35"/>
<line x1="818.5" y1="380" x2="818.5" y2="489" stroke="#999" stroke-width="0.6" opacity="0.35"/>
<polyline points="447.5,267.9 455,264.8 467.2,262.4 480.8,260.1 494.4,258.4 502.6,257 510.7,254.3 523,252.5 548.8,252.5 558.4,250.2 578.3,248.6 598.7,248.6 608.9,249.7 621.4,249.1 640.2,247.5 648.1,249.1 657.2,249.1 664,250.4 695.8,250 702.6,251.3 709.4,251.3 718.4,253.6 733.2,256.5 741.1,258.8 752.4,261.1 771.7,267.4 786.5,271.3 797.8,273.5 810.3,278.5 825,282.6" fill="none" stroke="#1c1c98" stroke-width="1.5" stroke-linejoin="round" stroke-linecap="round" />
<rect x="820" y="359" width="10.3" height="34" fill="#f6f25a" stroke="none" stroke-width="1" />
<line x1="62.1" y1="220.5" x2="62.1" y2="290.3" stroke="#000" stroke-width="1.5" />
<path d="M59,290.3 H65 V460.3 H59" fill="none" stroke="#000" stroke-width="1.5"/>
<line x1="69.81" y1="275.6" x2="69.81" y2="326.2" stroke="#cc0033" stroke-width="1.5" />
<rect x="66.22" y="301" width="7.2" height="1.4" fill="#cc0033" stroke="none" stroke-width="1" />
<line x1="77.53" y1="254.3" x2="77.53" y2="304.8" stroke="#cc0033" stroke-width="1.5" />
<rect x="73.93" y="295.2" width="7.2" height="9.6" fill="#cc0033" stroke="none" stroke-width="1" />
<line x1="85.25" y1="278.2" x2="85.25" y2="292.4" stroke="#000" stroke-width="1.5" />
<line x1="85.25" y1="299.5" x2="85.25" y2="300.8" stroke="#000" stroke-width="1.5" />
<rect x="82.4" y="292.9" width="5.7" height="6.1" fill="none" stroke="#000" stroke-width="1.5" />
<line x1="92.96" y1="278.3" x2="92.96" y2="299.3" stroke="#000" stroke-width="1.5" />
<rect x="89.36" y="279.5" width="7.2" height="8.2" fill="#000" stroke="none" stroke-width="1" />
<line x1="100.68" y1="234.2" x2="100.68" y2="266.2" stroke="#000" stroke-width="1.5" />
<line x1="100.68" y1="285.4" x2="100.68" y2="288.2" stroke="#000" stroke-width="1.5" />
<rect x="97.83" y="266.7" width="5.7" height="18.2" fill="none" stroke="#000" stroke-width="1.5" />
<line x1="108.39" y1="256" x2="108.39" y2="289.7" stroke="#cc0033" stroke-width="1.5" />
<rect x="104.79" y="264.7" width="7.2" height="15.7" fill="#cc0033" stroke="none" stroke-width="1" />
<line x1="116.1" y1="257.1" x2="116.1" y2="266.4" stroke="#000" stroke-width="1.5" />
<line x1="116.1" y1="276.2" x2="116.1" y2="284.3" stroke="#000" stroke-width="1.5" />
<rect x="113.25" y="266.9" width="5.7" height="8.8" fill="none" stroke="#000" stroke-width="1.5" />
<line x1="123.82" y1="264.7" x2="123.82" y2="302.1" stroke="#cc0033" stroke-width="1.5" />
<rect x="120.22" y="267.2" width="7.2" height="29.8" fill="#cc0033" stroke="none" stroke-width="1" />
<line x1="131.53" y1="258" x2="131.53" y2="265.2" stroke="#000" stroke-width="1.5" />
<line x1="131.53" y1="296.6" x2="131.53" y2="300.7" stroke="#000" stroke-width="1.5" />
<rect x="128.69" y="265.7" width="5.7" height="30.4" fill="none" stroke="#000" stroke-width="1.5" />
<line x1="139.25" y1="209.2" x2="139.25" y2="213.3" stroke="#000" stroke-width="1.5" />
<line x1="139.25" y1="265.1" x2="139.25" y2="271.7" stroke="#000" stroke-width="1.5" />
<rect x="136.4" y="213.8" width="5.7" height="50.8" fill="none" stroke="#000" stroke-width="1.5" />
<line x1="146.97" y1="207.1" x2="146.97" y2="246.5" stroke="#000" stroke-width="1.5" />
<rect x="144.12" y="186.5" width="5.7" height="20.1" fill="none" stroke="#000" stroke-width="1.5" />
<line x1="154.68" y1="186" x2="154.68" y2="201.2" stroke="#cc0033" stroke-width="1.5" />
<rect x="151.08" y="188" width="7.2" height="8.6" fill="#cc0033" stroke="none" stroke-width="1" />
<line x1="162.4" y1="186" x2="162.4" y2="234" stroke="#cc0033" stroke-width="1.5" />
<rect x="158.8" y="186" width="7.2" height="23.7" fill="#cc0033" stroke="none" stroke-width="1" />
<line x1="170.11" y1="186" x2="170.11" y2="219.8" stroke="#cc0033" stroke-width="1.5" />
<rect x="166.51" y="213.3" width="7.2" height="5.2" fill="#cc0033" stroke="none" stroke-width="1" />
<line x1="177.82" y1="214.5" x2="177.82" y2="252.8" stroke="#cc0033" stroke-width="1.5" />
<rect x="174.22" y="216.9" width="7.2" height="35.1" fill="#cc0033" stroke="none" stroke-width="1" />
<line x1="185.54" y1="215.4" x2="185.54" y2="236.2" stroke="#000" stroke-width="1.5" />
<line x1="185.54" y1="248.4" x2="185.54" y2="265.6" stroke="#000" stroke-width="1.5" />
<rect x="182.69" y="236.7" width="5.7" height="11.2" fill="none" stroke="#000" stroke-width="1.5" />
<line x1="193.25" y1="224.3" x2="193.25" y2="247.9" stroke="#cc0033" stroke-width="1.5" />
<rect x="189.66" y="239.3" width="7.2" height="4.6" fill="#cc0033" stroke="none" stroke-width="1" />
<line x1="200.97" y1="239.3" x2="200.97" y2="254.3" stroke="#cc0033" stroke-width="1.5" />
<rect x="197.37" y="240.7" width="7.2" height="7.9" fill="#cc0033" stroke="none" stroke-width="1" />
<line x1="208.69" y1="238.1" x2="208.69" y2="267.9" stroke="#cc0033" stroke-width="1.5" />
<rect x="205.09" y="242.1" width="7.2" height="18.3" fill="#cc0033" stroke="none" stroke-width="1" />
<line x1="216.4" y1="220.4" x2="216.4" y2="230.7" stroke="#000" stroke-width="1.5" />
<line x1="216.4" y1="257.6" x2="216.4" y2="259" stroke="#000" stroke-width="1.5" />
<rect x="213.55" y="231.2" width="5.7" height="25.9" fill="none" stroke="#000" stroke-width="1.5" />
<line x1="224.11" y1="214.3" x2="224.11" y2="242.9" stroke="#cc0033" stroke-width="1.5" />
<rect x="220.51" y="227.9" width="7.2" height="8.5" fill="#cc0033" stroke="none" stroke-width="1" />
<line x1="231.83" y1="231.9" x2="231.83" y2="252.7" stroke="#cc0033" stroke-width="1.5" />
<rect x="228.23" y="231.9" width="7.2" height="13.6" fill="#cc0033" stroke="none" stroke-width="1" />
<line x1="239.54" y1="245.7" x2="239.54" y2="288.3" stroke="#cc0033" stroke-width="1.5" />
<rect x="235.94" y="245.7" width="7.2" height="25.9" fill="#cc0033" stroke="none" stroke-width="1" />
<line x1="247.26" y1="251.7" x2="247.26" y2="315" stroke="#cc0033" stroke-width="1.5" />
<rect x="243.66" y="262" width="7.2" height="30" fill="#cc0033" stroke="none" stroke-width="1" />
<line x1="254.97" y1="288.3" x2="254.97" y2="321.3" stroke="#cc0033" stroke-width="1.5" />
<rect x="251.38" y="295" width="7.2" height="7" fill="#cc0033" stroke="none" stroke-width="1" />
<line x1="262.69" y1="287" x2="262.69" y2="318.5" stroke="#cc0033" stroke-width="1.5" />
<rect x="259.09" y="300" width="7.2" height="11.7" fill="#cc0033" stroke="none" stroke-width="1" />
<line x1="270.41" y1="311.8" x2="270.41" y2="329.7" stroke="#000" stroke-width="1.5" />
<rect x="267.56" y="295.9" width="5.7" height="15.4" fill="none" stroke="#000" stroke-width="1.5" />
<line x1="278.12" y1="292.6" x2="278.12" y2="294" stroke="#000" stroke-width="1.5" />
<line x1="278.12" y1="300.3" x2="278.12" y2="317.1" stroke="#000" stroke-width="1.5" />
<rect x="275.27" y="294.5" width="5.7" height="5.3" fill="none" stroke="#000" stroke-width="1.5" />
<line x1="285.83" y1="287.4" x2="285.83" y2="308.3" stroke="#cc0033" stroke-width="1.5" />
<rect x="282.23" y="292.3" width="7.2" height="12.1" fill="#cc0033" stroke="none" stroke-width="1" />
<line x1="293.55" y1="287.4" x2="293.55" y2="297.9" stroke="#000" stroke-width="1.5" />
<line x1="293.55" y1="306.9" x2="293.55" y2="308.3" stroke="#000" stroke-width="1.5" />
<rect x="290.7" y="298.4" width="5.7" height="8" fill="none" stroke="#000" stroke-width="1.5" />
<line x1="301.26" y1="291.1" x2="301.26" y2="295.4" stroke="#000" stroke-width="1.5" />
<line x1="301.26" y1="301.4" x2="301.26" y2="312.1" stroke="#000" stroke-width="1.5" />
<rect x="298.41" y="295.9" width="5.7" height="5" fill="none" stroke="#000" stroke-width="1.5" />
<line x1="308.98" y1="288.3" x2="308.98" y2="305.7" stroke="#cc0033" stroke-width="1.5" />
<rect x="305.38" y="295" width="7.2" height="4.7" fill="#cc0033" stroke="none" stroke-width="1" />
<line x1="316.69" y1="297.1" x2="316.69" y2="345" stroke="#cc0033" stroke-width="1.5" />
<rect x="313.09" y="298.6" width="7.2" height="30" fill="#cc0033" stroke="none" stroke-width="1" />
<line x1="324.41" y1="333.1" x2="324.41" y2="355" stroke="#000" stroke-width="1.5" />
<rect x="321.56" y="323.6" width="5.7" height="9" fill="none" stroke="#000" stroke-width="1.5" />
<line x1="332.12" y1="293.6" x2="332.12" y2="297.4" stroke="#000" stroke-width="1.5" />
<line x1="332.12" y1="325.4" x2="332.12" y2="329.7" stroke="#000" stroke-width="1.5" />
<rect x="329.27" y="297.9" width="5.7" height="27" fill="none" stroke="#000" stroke-width="1.5" />
<line x1="339.84" y1="283.6" x2="339.84" y2="292.6" stroke="#000" stroke-width="1.5" />
<line x1="339.84" y1="295.4" x2="339.84" y2="312.1" stroke="#000" stroke-width="1.5" />
<rect x="336.99" y="293.1" width="5.7" height="1.8" fill="none" stroke="#000" stroke-width="1.5" />
<line x1="347.56" y1="282.3" x2="347.56" y2="287.5" stroke="#000" stroke-width="1.5" />
<line x1="347.56" y1="291.4" x2="347.56" y2="298.3" stroke="#000" stroke-width="1.5" />
<rect x="344.7" y="288" width="5.7" height="2.9" fill="none" stroke="#000" stroke-width="1.5" />
<line x1="355.27" y1="274.7" x2="355.27" y2="297.1" stroke="#cc0033" stroke-width="1.5" />
<rect x="351.67" y="286.1" width="7.2" height="4.6" fill="#cc0033" stroke="none" stroke-width="1" />
<line x1="362.99" y1="280" x2="362.99" y2="281.4" stroke="#000" stroke-width="1.5" />
<line x1="362.99" y1="287.6" x2="362.99" y2="299.3" stroke="#000" stroke-width="1.5" />
<rect x="360.13" y="281.9" width="5.7" height="5.2" fill="none" stroke="#000" stroke-width="1.5" />
<line x1="370.7" y1="277.6" x2="370.7" y2="289.3" stroke="#cc0033" stroke-width="1.5" />
<rect x="367.1" y="282.8" width="7.2" height="1.6" fill="#cc0033" stroke="none" stroke-width="1" />
<line x1="378.42" y1="280" x2="378.42" y2="295.7" stroke="#cc0033" stroke-width="1.5" />
<rect x="374.81" y="282.4" width="7.2" height="12.3" fill="#cc0033" stroke="none" stroke-width="1" />
<line x1="386.13" y1="259.3" x2="386.13" y2="262.4" stroke="#000" stroke-width="1.5" />
<line x1="386.13" y1="295.4" x2="386.13" y2="297.1" stroke="#000" stroke-width="1.5" />
<rect x="383.28" y="262.9" width="5.7" height="32" fill="none" stroke="#000" stroke-width="1.5" />
<line x1="393.85" y1="257.1" x2="393.85" y2="285.7" stroke="#cc0033" stroke-width="1.5" />
<rect x="390.25" y="263.3" width="7.2" height="17.1" fill="#cc0033" stroke="none" stroke-width="1" />
<line x1="401.56" y1="259.6" x2="401.56" y2="266.4" stroke="#000" stroke-width="1.5" />
<line x1="401.56" y1="285.3" x2="401.56" y2="289.6" stroke="#000" stroke-width="1.5" />
<rect x="398.71" y="266.9" width="5.7" height="17.9" fill="none" stroke="#000" stroke-width="1.5" />
<line x1="409.28" y1="257.1" x2="409.28" y2="265.6" stroke="#000" stroke-width="1.5" />
<line x1="409.28" y1="269.4" x2="409.28" y2="276.7" stroke="#000" stroke-width="1.5" />
<rect x="406.43" y="266.1" width="5.7" height="2.8" fill="none" stroke="#000" stroke-width="1.5" />
<line x1="416.99" y1="247.1" x2="416.99" y2="254.7" stroke="#000" stroke-width="1.5" />
<line x1="416.99" y1="265" x2="416.99" y2="270.7" stroke="#000" stroke-width="1.5" />
<rect x="414.14" y="255.2" width="5.7" height="9.3" fill="none" stroke="#000" stroke-width="1.5" />
<line x1="424.71" y1="241.9" x2="424.71" y2="243.6" stroke="#000" stroke-width="1.5" />
<line x1="424.71" y1="255" x2="424.71" y2="261.4" stroke="#000" stroke-width="1.5" />
<rect x="421.86" y="244.1" width="5.7" height="10.4" fill="none" stroke="#000" stroke-width="1.5" />
<line x1="432.42" y1="241.9" x2="432.42" y2="282.9" stroke="#cc0033" stroke-width="1.5" />
<rect x="428.82" y="245.7" width="7.2" height="19.6" fill="#cc0033" stroke="none" stroke-width="1" />
<line x1="440.13" y1="229.3" x2="440.13" y2="237.1" stroke="#000" stroke-width="1.5" />
<rect x="437.28" y="237.6" width="5.7" height="26.2" fill="none" stroke="#000" stroke-width="1.5" />
<line x1="447.85" y1="241" x2="447.85" y2="251.4" stroke="#000" stroke-width="1.5" />
<rect x="445" y="229.1" width="5.7" height="11.4" fill="none" stroke="#000" stroke-width="1.5" />
<line x1="455.56" y1="216.7" x2="455.56" y2="220.7" stroke="#000" stroke-width="1.5" />
<line x1="455.56" y1="229.3" x2="455.56" y2="232.4" stroke="#000" stroke-width="1.5" />
<rect x="452.71" y="221.2" width="5.7" height="7.6" fill="none" stroke="#000" stroke-width="1.5" />
<line x1="463.28" y1="213.9" x2="463.28" y2="218.6" stroke="#000" stroke-width="1.5" />
<line x1="463.28" y1="222.1" x2="463.28" y2="236.7" stroke="#000" stroke-width="1.5" />
<rect x="460.43" y="219.1" width="5.7" height="2.5" fill="none" stroke="#000" stroke-width="1.5" />
<line x1="471" y1="217.9" x2="471" y2="222.6" stroke="#cc0033" stroke-width="1.5" />
<line x1="471" y1="226.8" x2="471" y2="232.9" stroke="#cc0033" stroke-width="1.5" />
<rect x="468.14" y="223.1" width="5.7" height="3.2" fill="none" stroke="#cc0033" stroke-width="1.5" />
<line x1="478.71" y1="222.9" x2="478.71" y2="244.3" stroke="#cc0033" stroke-width="1.5" />
<rect x="475.11" y="228.1" width="7.2" height="5.5" fill="#cc0033" stroke="none" stroke-width="1" />
<line x1="486.43" y1="215.3" x2="486.43" y2="224.3" stroke="#000" stroke-width="1.5" />
<line x1="486.43" y1="236.4" x2="486.43" y2="245.3" stroke="#000" stroke-width="1.5" />
<rect x="483.57" y="224.8" width="5.7" height="11.1" fill="none" stroke="#000" stroke-width="1.5" />
<line x1="494.14" y1="207.1" x2="494.14" y2="209.3" stroke="#000" stroke-width="1.5" />
<line x1="494.14" y1="226" x2="494.14" y2="230.2" stroke="#000" stroke-width="1.5" />
<rect x="491.29" y="209.8" width="5.7" height="15.7" fill="none" stroke="#000" stroke-width="1.5" />
<line x1="501.86" y1="201.4" x2="501.86" y2="205.7" stroke="#000" stroke-width="1.5" />
<line x1="501.86" y1="211.4" x2="501.86" y2="212.4" stroke="#000" stroke-width="1.5" />
<rect x="499" y="206.2" width="5.7" height="4.7" fill="none" stroke="#000" stroke-width="1.5" />
<line x1="509.57" y1="193.6" x2="509.57" y2="195.7" stroke="#000" stroke-width="1.5" />
<line x1="509.57" y1="204.7" x2="509.57" y2="209" stroke="#000" stroke-width="1.5" />
<rect x="506.72" y="196.2" width="5.7" height="8" fill="none" stroke="#000" stroke-width="1.5" />
<line x1="517.28" y1="186.4" x2="517.28" y2="188.1" stroke="#000" stroke-width="1.5" />
<line x1="517.28" y1="195.7" x2="517.28" y2="201" stroke="#000" stroke-width="1.5" />
<rect x="514.43" y="188.6" width="5.7" height="6.6" fill="none" stroke="#000" stroke-width="1.5" />
<line x1="525" y1="186.7" x2="525" y2="192.4" stroke="#000" stroke-width="1.5" />
<rect x="522.15" y="174.8" width="5.7" height="11.4" fill="none" stroke="#000" stroke-width="1.5" />
<line x1="532.72" y1="162.4" x2="532.72" y2="170.4" stroke="#000" stroke-width="1.5" />
<line x1="532.72" y1="174.3" x2="532.72" y2="176.1" stroke="#000" stroke-width="1.5" />
<rect x="529.87" y="170.9" width="5.7" height="2.9" fill="none" stroke="#000" stroke-width="1.5" />
<line x1="540.43" y1="170" x2="540.43" y2="210" stroke="#cc0033" stroke-width="1.5" />
<rect x="536.83" y="170" width="7.2" height="19.6" fill="#cc0033" stroke="none" stroke-width="1" />
<line x1="548.14" y1="179" x2="548.14" y2="231.4" stroke="#cc0033" stroke-width="1.5" />
<rect x="544.54" y="182.9" width="7.2" height="19.5" fill="#cc0033" stroke="none" stroke-width="1" />
<line x1="555.86" y1="181.4" x2="555.86" y2="184.3" stroke="#000" stroke-width="1.5" />
<line x1="555.86" y1="205.7" x2="555.86" y2="217.6" stroke="#000" stroke-width="1.5" />
<rect x="553.01" y="184.8" width="5.7" height="20.4" fill="none" stroke="#000" stroke-width="1.5" />
<line x1="563.57" y1="179" x2="563.57" y2="226.4" stroke="#cc0033" stroke-width="1.5" />
<rect x="559.97" y="189.2" width="7.2" height="22" fill="#cc0033" stroke="none" stroke-width="1" />
<line x1="571.29" y1="188.9" x2="571.29" y2="198.6" stroke="#000" stroke-width="1.5" />
<line x1="571.29" y1="215.7" x2="571.29" y2="218.6" stroke="#000" stroke-width="1.5" />
<rect x="568.44" y="199.1" width="5.7" height="16.1" fill="none" stroke="#000" stroke-width="1.5" />
<line x1="579" y1="191.4" x2="579" y2="212.6" stroke="#cc0033" stroke-width="1.5" />
<rect x="575.4" y="196.9" width="7.2" height="9.1" fill="#cc0033" stroke="none" stroke-width="1" />
<line x1="586.72" y1="201.7" x2="586.72" y2="248.6" stroke="#cc0033" stroke-width="1.5" />
<rect x="583.12" y="204.3" width="7.2" height="31.7" fill="#cc0033" stroke="none" stroke-width="1" />
<line x1="594.44" y1="223.1" x2="594.44" y2="259.3" stroke="#cc0033" stroke-width="1.5" />
<rect x="590.84" y="244" width="7.2" height="1.8" fill="#cc0033" stroke="none" stroke-width="1" />
<line x1="602.15" y1="236.9" x2="602.15" y2="266.4" stroke="#cc0033" stroke-width="1.5" />
<rect x="598.55" y="244.4" width="7.2" height="19.9" fill="#cc0033" stroke="none" stroke-width="1" />
<line x1="609.87" y1="250.7" x2="609.87" y2="298.6" stroke="#cc0033" stroke-width="1.5" />
<rect x="606.26" y="271.1" width="7.2" height="6.8" fill="#cc0033" stroke="none" stroke-width="1" />
<line x1="617.58" y1="247.1" x2="617.58" y2="256.1" stroke="#000" stroke-width="1.5" />
<line x1="617.58" y1="270.4" x2="617.58" y2="280.7" stroke="#000" stroke-width="1.5" />
<rect x="614.73" y="256.6" width="5.7" height="13.3" fill="none" stroke="#000" stroke-width="1.5" />
<line x1="625.29" y1="212.9" x2="625.29" y2="240.4" stroke="#000" stroke-width="1.5" />
<line x1="625.29" y1="244.4" x2="625.29" y2="247.9" stroke="#000" stroke-width="1.5" />
<rect x="622.44" y="240.9" width="5.7" height="3" fill="none" stroke="#000" stroke-width="1.5" />
<line x1="633.01" y1="230.7" x2="633.01" y2="260.7" stroke="#cc0033" stroke-width="1.5" />
<rect x="629.41" y="241" width="7.2" height="18.3" fill="#cc0033" stroke="none" stroke-width="1" />
<line x1="640.73" y1="251.1" x2="640.73" y2="290.7" stroke="#cc0033" stroke-width="1.5" />
<rect x="637.12" y="261" width="7.2" height="1.6" fill="#cc0033" stroke="none" stroke-width="1" />
<line x1="648.44" y1="257.4" x2="648.44" y2="326.2" stroke="#cc0033" stroke-width="1.5" />
<rect x="644.84" y="263.1" width="7.2" height="62.1" fill="#cc0033" stroke="none" stroke-width="1" />
<line x1="656.15" y1="311.2" x2="656.15" y2="361.4" stroke="#cc0033" stroke-width="1.5" />
<rect x="652.55" y="317.5" width="7.2" height="43.9" fill="#cc0033" stroke="none" stroke-width="1" />
<line x1="663.87" y1="306.2" x2="663.87" y2="309" stroke="#000" stroke-width="1.5" />
<line x1="663.87" y1="363.7" x2="663.87" y2="384.3" stroke="#000" stroke-width="1.5" />
<rect x="661.02" y="309.5" width="5.7" height="53.7" fill="none" stroke="#000" stroke-width="1.5" />
<line x1="671.59" y1="298.6" x2="671.59" y2="310.9" stroke="#cc0033" stroke-width="1.5" />
<line x1="671.59" y1="315" x2="671.59" y2="328.7" stroke="#cc0033" stroke-width="1.5" />
<rect x="668.74" y="311.4" width="5.7" height="3.1" fill="none" stroke="#cc0033" stroke-width="1.5" />
<line x1="679.3" y1="283.7" x2="679.3" y2="296.7" stroke="#000" stroke-width="1.5" />
<line x1="679.3" y1="312.3" x2="679.3" y2="313.4" stroke="#000" stroke-width="1.5" />
<rect x="676.45" y="297.2" width="5.7" height="14.6" fill="none" stroke="#000" stroke-width="1.5" />
<line x1="687.01" y1="287.1" x2="687.01" y2="332.5" stroke="#cc0033" stroke-width="1.5" />
<rect x="683.41" y="294.8" width="7.2" height="31.4" fill="#cc0033" stroke="none" stroke-width="1" />
<line x1="694.73" y1="310" x2="694.73" y2="337.1" stroke="#cc0033" stroke-width="1.5" />
<rect x="691.13" y="326.2" width="7.2" height="10.9" fill="#cc0033" stroke="none" stroke-width="1" />
<line x1="702.45" y1="331.2" x2="702.45" y2="371.4" stroke="#cc0033" stroke-width="1.5" />
<rect x="698.85" y="337.9" width="7.2" height="32.1" fill="#cc0033" stroke="none" stroke-width="1" />
<line x1="710.16" y1="340.2" x2="710.16" y2="373.8" stroke="#cc0033" stroke-width="1.5" />
<rect x="706.56" y="366.9" width="7.2" height="6.9" fill="#cc0033" stroke="none" stroke-width="1" />
<line x1="717.88" y1="351.4" x2="717.88" y2="404.2" stroke="#cc0033" stroke-width="1.5" />
<rect x="714.27" y="374.2" width="7.2" height="23.5" fill="#cc0033" stroke="none" stroke-width="1" />
<line x1="725.59" y1="389.5" x2="725.59" y2="392.4" stroke="#000" stroke-width="1.5" />
<line x1="725.59" y1="402.3" x2="725.59" y2="449.5" stroke="#000" stroke-width="1.5" />
<rect x="722.74" y="392.9" width="5.7" height="8.9" fill="none" stroke="#000" stroke-width="1.5" />
<line x1="733.31" y1="390.5" x2="733.31" y2="433.3" stroke="#cc0033" stroke-width="1.5" />
<rect x="729.71" y="397.1" width="7.2" height="23.5" fill="#cc0033" stroke="none" stroke-width="1" />
<line x1="741.02" y1="416.8" x2="741.02" y2="477.1" stroke="#cc0033" stroke-width="1.5" />
<rect x="737.42" y="424.8" width="7.2" height="17.1" fill="#cc0033" stroke="none" stroke-width="1" />
<line x1="748.74" y1="421" x2="748.74" y2="453.3" stroke="#cc0033" stroke-width="1.5" />
<rect x="745.13" y="441" width="7.2" height="1.8" fill="#cc0033" stroke="none" stroke-width="1" />
<line x1="756.45" y1="423.2" x2="756.45" y2="461.9" stroke="#cc0033" stroke-width="1.5" />
<rect x="752.85" y="436.2" width="7.2" height="19" fill="#cc0033" stroke="none" stroke-width="1" />
<line x1="764.16" y1="450.8" x2="764.16" y2="461.6" stroke="#cc0033" stroke-width="1.5" />
<line x1="764.16" y1="471.4" x2="764.16" y2="480.7" stroke="#cc0033" stroke-width="1.5" />
<rect x="761.31" y="462.1" width="5.7" height="8.8" fill="none" stroke="#cc0033" stroke-width="1.5" />
<line x1="771.88" y1="401.9" x2="771.88" y2="403.2" stroke="#000" stroke-width="1.5" />
<line x1="771.88" y1="455.3" x2="771.88" y2="460.8" stroke="#000" stroke-width="1.5" />
<rect x="769.03" y="403.7" width="5.7" height="51.1" fill="none" stroke="#000" stroke-width="1.5" />
<line x1="779.6" y1="398.3" x2="779.6" y2="430.7" stroke="#cc0033" stroke-width="1.5" />
<rect x="776" y="404.6" width="7.2" height="11.1" fill="#cc0033" stroke="none" stroke-width="1" />
<line x1="787.31" y1="382.1" x2="787.31" y2="391.1" stroke="#000" stroke-width="1.5" />
<line x1="787.31" y1="419.3" x2="787.31" y2="422.9" stroke="#000" stroke-width="1.5" />
<rect x="784.46" y="391.6" width="5.7" height="27.2" fill="none" stroke="#000" stroke-width="1.5" />
<line x1="795.02" y1="389.3" x2="795.02" y2="420.7" stroke="#cc0033" stroke-width="1.5" />
<rect x="791.42" y="393.1" width="7.2" height="15.8" fill="#cc0033" stroke="none" stroke-width="1" />
<line x1="802.74" y1="388.3" x2="802.74" y2="420.7" stroke="#cc0033" stroke-width="1.5" />
<rect x="799.14" y="404.6" width="7.2" height="13.3" fill="#cc0033" stroke="none" stroke-width="1" />
<line x1="810.46" y1="421.4" x2="810.46" y2="441.7" stroke="#000" stroke-width="1.5" />
<rect x="807.61" y="406.9" width="5.7" height="14" fill="none" stroke="#000" stroke-width="1.5" />
<line x1="818.17" y1="376.9" x2="818.17" y2="382.1" stroke="#000" stroke-width="1.5" />
<line x1="818.17" y1="411.4" x2="818.17" y2="417.9" stroke="#000" stroke-width="1.5" />
<rect x="815.32" y="382.6" width="5.7" height="28.3" fill="none" stroke="#000" stroke-width="1.5" />
<line x1="825.88" y1="360.3" x2="825.88" y2="373.6" stroke="#000" stroke-width="1.5" />
<line x1="825.88" y1="381.1" x2="825.88" y2="391.7" stroke="#000" stroke-width="1.5" />
<rect x="823.03" y="374.1" width="5.7" height="6.5" fill="none" stroke="#000" stroke-width="1.5" />
<rect x="59" y="139.6" width="186" height="15.4" fill="#fff" stroke="none" stroke-width="1" />
<rect x="59" y="155" width="98" height="13" fill="#fff" stroke="none" stroke-width="1" />
<rect x="59" y="168" width="103" height="14" fill="#fff" stroke="none" stroke-width="1" />
<rect x="59" y="182" width="121" height="13.5" fill="#fff" stroke="none" stroke-width="1" />
<line x1="58.5" y1="517.1" x2="834.5" y2="517.1" stroke="#e9e9e9" stroke-width="1.1" />
<line x1="58.5" y1="530.8" x2="834.5" y2="530.8" stroke="#e9e9e9" stroke-width="1.1" />
<line x1="58.5" y1="544.9" x2="834.5" y2="544.9" stroke="#e9e9e9" stroke-width="1.1" />
<line x1="58.5" y1="559.4" x2="834.5" y2="559.4" stroke="#e9e9e9" stroke-width="1.1" />
<line x1="58.5" y1="573.8" x2="834.5" y2="573.8" stroke="#e9e9e9" stroke-width="1.1" />
<line x1="58.5" y1="587.6" x2="834.5" y2="587.6" stroke="#e9e9e9" stroke-width="1.1" />
<line x1="58.5" y1="601.3" x2="834.5" y2="601.3" stroke="#e9e9e9" stroke-width="1.1" />
<line x1="58.5" y1="615.4" x2="834.5" y2="615.4" stroke="#e9e9e9" stroke-width="1.1" />
<line x1="85.55" y1="507.5" x2="85.55" y2="629" stroke="#e9e9e9" stroke-width="1.1" />
<line x1="116.4" y1="507.5" x2="116.4" y2="629" stroke="#e9e9e9" stroke-width="1.1" />
<line x1="154.98" y1="507.5" x2="154.98" y2="629" stroke="#e9e9e9" stroke-width="1.1" />
<line x1="185.84" y1="507.5" x2="185.84" y2="629" stroke="#c6c6c6" stroke-width="1.2" />
<line x1="216.7" y1="507.5" x2="216.7" y2="629" stroke="#e9e9e9" stroke-width="1.1" />
<line x1="247.56" y1="507.5" x2="247.56" y2="629" stroke="#e9e9e9" stroke-width="1.1" />
<line x1="286.13" y1="507.5" x2="286.13" y2="629" stroke="#e9e9e9" stroke-width="1.1" />
<line x1="317" y1="507.5" x2="317" y2="629" stroke="#e9e9e9" stroke-width="1.1" />
<line x1="347.86" y1="507.5" x2="347.86" y2="629" stroke="#e9e9e9" stroke-width="1.1" />
<line x1="386.43" y1="507.5" x2="386.43" y2="629" stroke="#e9e9e9" stroke-width="1.1" />
<line x1="417.29" y1="507.5" x2="417.29" y2="629" stroke="#e9e9e9" stroke-width="1.1" />
<line x1="455.87" y1="507.5" x2="455.87" y2="629" stroke="#e9e9e9" stroke-width="1.1" />
<line x1="486.73" y1="507.5" x2="486.73" y2="629" stroke="#e9e9e9" stroke-width="1.1" />
<line x1="517.58" y1="507.5" x2="517.58" y2="629" stroke="#e9e9e9" stroke-width="1.1" />
<line x1="556.16" y1="507.5" x2="556.16" y2="629" stroke="#e9e9e9" stroke-width="1.1" />
<line x1="587.02" y1="507.5" x2="587.02" y2="629" stroke="#c6c6c6" stroke-width="1.2" />
<line x1="625.59" y1="507.5" x2="625.59" y2="629" stroke="#e9e9e9" stroke-width="1.1" />
<line x1="656.45" y1="507.5" x2="656.45" y2="629" stroke="#e9e9e9" stroke-width="1.1" />
<line x1="687.31" y1="507.5" x2="687.31" y2="629" stroke="#e9e9e9" stroke-width="1.1" />
<line x1="718.17" y1="507.5" x2="718.17" y2="629" stroke="#e9e9e9" stroke-width="1.1" />
<line x1="756.75" y1="507.5" x2="756.75" y2="629" stroke="#e9e9e9" stroke-width="1.1" />
<line x1="787.61" y1="507.5" x2="787.61" y2="629" stroke="#e9e9e9" stroke-width="1.1" />
<line x1="818.47" y1="507.5" x2="818.47" y2="629" stroke="#e9e9e9" stroke-width="1.1" />
<rect x="59" y="508" width="302" height="14" fill="#fff" stroke="none" stroke-width="1" />
<rect x="329.23" y="559.3" width="5.8" height="3.4" fill="#5aaad6" stroke="#2a78a8" stroke-width="1" />
<rect x="336.94" y="559.3" width="5.8" height="1.1" fill="#5aaad6" stroke="#2a78a8" stroke-width="1" />
<rect x="344.66" y="557.7" width="5.8" height="1.6" fill="#5aaad6" stroke="#2a78a8" stroke-width="1" />
<rect x="352.37" y="555.9" width="5.8" height="3.4" fill="#5aaad6" stroke="#2a78a8" stroke-width="1" />
<rect x="360.09" y="554.7" width="5.8" height="4.6" fill="#5aaad6" stroke="#2a78a8" stroke-width="1" />
<rect x="367.8" y="553.2" width="5.8" height="6.1" fill="#5aaad6" stroke="#2a78a8" stroke-width="1" />
<rect x="375.52" y="555.4" width="5.8" height="3.9" fill="#5aaad6" stroke="#2a78a8" stroke-width="1" />
<rect x="383.23" y="552.5" width="5.8" height="6.8" fill="#5aaad6" stroke="#2a78a8" stroke-width="1" />
<rect x="390.95" y="552.5" width="5.8" height="6.8" fill="#5aaad6" stroke="#2a78a8" stroke-width="1" />
<rect x="398.66" y="552.5" width="5.8" height="6.8" fill="#5aaad6" stroke="#2a78a8" stroke-width="1" />
<rect x="406.38" y="550.9" width="5.8" height="8.4" fill="#5aaad6" stroke="#2a78a8" stroke-width="1" />
<rect x="414.09" y="550.9" width="5.8" height="8.4" fill="#5aaad6" stroke="#2a78a8" stroke-width="1" />
<rect x="421.81" y="549.5" width="5.8" height="9.8" fill="#5aaad6" stroke="#2a78a8" stroke-width="1" />
<rect x="429.52" y="550.9" width="5.8" height="8.4" fill="#5aaad6" stroke="#2a78a8" stroke-width="1" />
<rect x="437.24" y="549.1" width="5.8" height="10.2" fill="#5aaad6" stroke="#2a78a8" stroke-width="1" />
<rect x="444.95" y="548.5" width="5.8" height="10.8" fill="#5aaad6" stroke="#2a78a8" stroke-width="1" />
<rect x="452.67" y="547" width="5.8" height="12.3" fill="#5aaad6" stroke="#2a78a8" stroke-width="1" />
<rect x="460.38" y="547" width="5.8" height="12.3" fill="#5aaad6" stroke="#2a78a8" stroke-width="1" />
<rect x="468.1" y="548.4" width="5.8" height="10.9" fill="#5aaad6" stroke="#2a78a8" stroke-width="1" />
<rect x="475.81" y="551.1" width="5.8" height="8.2" fill="#5aaad6" stroke="#2a78a8" stroke-width="1" />
<rect x="483.53" y="552.2" width="5.8" height="7.1" fill="#5aaad6" stroke="#2a78a8" stroke-width="1" />
<rect x="491.24" y="551.1" width="5.8" height="8.2" fill="#5aaad6" stroke="#2a78a8" stroke-width="1" />
<rect x="498.96" y="551.1" width="5.8" height="8.2" fill="#5aaad6" stroke="#2a78a8" stroke-width="1" />
<rect x="506.67" y="549.5" width="5.8" height="9.8" fill="#5aaad6" stroke="#2a78a8" stroke-width="1" />
<rect x="514.38" y="549.5" width="5.8" height="9.8" fill="#5aaad6" stroke="#2a78a8" stroke-width="1" />
<rect x="522.1" y="547" width="5.8" height="12.3" fill="#5aaad6" stroke="#2a78a8" stroke-width="1" />
<rect x="529.82" y="547" width="5.8" height="12.3" fill="#5aaad6" stroke="#2a78a8" stroke-width="1" />
<rect x="537.53" y="549.5" width="5.8" height="9.8" fill="#5aaad6" stroke="#2a78a8" stroke-width="1" />
<rect x="545.25" y="554.5" width="5.8" height="4.8" fill="#5aaad6" stroke="#2a78a8" stroke-width="1" />
<rect x="552.96" y="554.5" width="5.8" height="4.8" fill="#5aaad6" stroke="#2a78a8" stroke-width="1" />
<rect x="560.67" y="559.3" width="5.8" height="1.3" fill="#5aaad6" stroke="#2a78a8" stroke-width="1" />
<rect x="568.39" y="559.3" width="5.8" height="2" fill="#5aaad6" stroke="#2a78a8" stroke-width="1" />
<rect x="576.11" y="559.3" width="5.8" height="4.3" fill="#5aaad6" stroke="#2a78a8" stroke-width="1" />
<rect x="583.82" y="559.3" width="5.8" height="9.5" fill="#5aaad6" stroke="#2a78a8" stroke-width="1" />
<rect x="591.54" y="559.3" width="5.8" height="13.3" fill="#5aaad6" stroke="#2a78a8" stroke-width="1" />
<rect x="599.25" y="559.3" width="5.8" height="17" fill="#5aaad6" stroke="#2a78a8" stroke-width="1" />
<rect x="606.97" y="559.3" width="5.8" height="21.1" fill="#5aaad6" stroke="#2a78a8" stroke-width="1" />
<rect x="614.68" y="559.3" width="5.8" height="19.8" fill="#5aaad6" stroke="#2a78a8" stroke-width="1" />
<rect x="622.39" y="559.3" width="5.8" height="15.7" fill="#5aaad6" stroke="#2a78a8" stroke-width="1" />
<rect x="630.11" y="559.3" width="5.8" height="15.7" fill="#5aaad6" stroke="#2a78a8" stroke-width="1" />
<rect x="637.83" y="559.3" width="5.8" height="14.2" fill="#5aaad6" stroke="#2a78a8" stroke-width="1" />
<rect x="645.54" y="559.3" width="5.8" height="18.1" fill="#5aaad6" stroke="#2a78a8" stroke-width="1" />
<rect x="653.25" y="559.3" width="5.8" height="22" fill="#5aaad6" stroke="#2a78a8" stroke-width="1" />
<rect x="660.97" y="559.3" width="5.8" height="19.7" fill="#5aaad6" stroke="#2a78a8" stroke-width="1" />
<rect x="668.69" y="559.3" width="5.8" height="17.4" fill="#5aaad6" stroke="#2a78a8" stroke-width="1" />
<rect x="676.4" y="559.3" width="5.8" height="12.4" fill="#5aaad6" stroke="#2a78a8" stroke-width="1" />
<rect x="684.12" y="559.3" width="5.8" height="12.4" fill="#5aaad6" stroke="#2a78a8" stroke-width="1" />
<rect x="691.83" y="559.3" width="5.8" height="12" fill="#5aaad6" stroke="#2a78a8" stroke-width="1" />
<rect x="699.55" y="559.3" width="5.8" height="13.6" fill="#5aaad6" stroke="#2a78a8" stroke-width="1" />
<rect x="707.26" y="559.3" width="5.8" height="13.6" fill="#5aaad6" stroke="#2a78a8" stroke-width="1" />
<rect x="714.98" y="559.3" width="5.8" height="13.6" fill="#5aaad6" stroke="#2a78a8" stroke-width="1" />
<rect x="722.69" y="559.3" width="5.8" height="12" fill="#5aaad6" stroke="#2a78a8" stroke-width="1" />
<rect x="730.41" y="559.3" width="5.8" height="12" fill="#5aaad6" stroke="#2a78a8" stroke-width="1" />
<rect x="738.12" y="559.3" width="5.8" height="12" fill="#5aaad6" stroke="#2a78a8" stroke-width="1" />
<rect x="745.84" y="559.3" width="5.8" height="10.6" fill="#5aaad6" stroke="#2a78a8" stroke-width="1" />
<rect x="753.55" y="559.3" width="5.8" height="9" fill="#5aaad6" stroke="#2a78a8" stroke-width="1" />
<rect x="761.26" y="559.3" width="5.8" height="7.5" fill="#5aaad6" stroke="#2a78a8" stroke-width="1" />
<rect x="768.98" y="559.3" width="5.8" height="4.5" fill="#5aaad6" stroke="#2a78a8" stroke-width="1" />
<rect x="776.7" y="559.3" width="5.8" height="1.1" fill="#5aaad6" stroke="#2a78a8" stroke-width="1" />
<rect x="784.41" y="556.3" width="5.8" height="3" fill="#5aaad6" stroke="#2a78a8" stroke-width="1" />
<rect x="792.12" y="554.7" width="5.8" height="4.6" fill="#5aaad6" stroke="#2a78a8" stroke-width="1" />
<rect x="799.84" y="553.6" width="5.8" height="5.7" fill="#5aaad6" stroke="#2a78a8" stroke-width="1" />
<rect x="807.56" y="552" width="5.8" height="7.3" fill="#5aaad6" stroke="#2a78a8" stroke-width="1" />
<rect x="815.27" y="549.6" width="5.8" height="9.7" fill="#5aaad6" stroke="#2a78a8" stroke-width="1" />
<rect x="822.99" y="548.4" width="5.8" height="10.9" fill="#5aaad6" stroke="#2a78a8" stroke-width="1" />
<polyline points="332.1,580.4 346.8,580.4 363.8,578.1 378.6,575.1 393.3,571.3 409.2,567.2 425.1,562.7 439.8,558.1 455.2,553.6 471.1,548.5 487,543.4 502.8,539.3 517.6,534.8 532.3,528.5 540.2,525.9 548.9,524.4 564,524.1 573.1,525 581.1,527.3 592.4,531.8 603.7,537.5 615.1,544.3 626.4,550 637.7,555.6 648.6,562.7 662.2,571.7 675.8,578.1 689.4,584.2 703,590.3 717.8,596.7 734.8,603.5 750.6,609.2 764.3,613 775.6,614.4 786.5,612.6 802.8,609.2 816.4,605.8 825.5,603.9" fill="none" stroke="#ff2020" stroke-width="1.3" stroke-linejoin="round" stroke-linecap="round" />
<polyline points="262.9,574 272,576.7 280,578.5 294.7,580.4 309.4,580.4 316.2,582.6 324.2,584.2 332.1,582.6 338.9,580.4 346.8,577.4 354.8,575.8 362.7,573.6 370.6,571.3 378.6,570.6 386.1,566.1 393.3,564.9 401.3,562.2 409.2,559.3 416.5,557 425.1,553.6 432.3,553.6 439.8,550.2 447.5,545.5 455.2,541.6 463.1,538.6 471.1,535.7 479,535.7 487,535.7 494.9,533 502.8,530.7 509.6,528.4 517.6,524.3 525.5,520.5 532.3,515.9 540.2,517.5 548.9,520.5 556.1,520.5 564,524.3 573.1,528 581.1,533 587.9,540.9 595.8,548.4 603.7,556.1 611.7,562 620.7,565.8 627.5,567 635.5,569.7 642.3,573.8 648.6,580.8 655.9,589.9 664.5,592.6 672.4,593.7 680.4,594 687.6,596.7 695.1,599.4 703,603 711,606.2 717.8,609.2 725.7,612.1 733.6,614.8 741.6,617.6 749.5,619.4 757,620.5 764.3,620 772.2,616.6 779,613 786.5,609.8 794.9,607.6 802.8,604.6 810.7,600.8 818.7,596.7 825.5,592.8" fill="none" stroke="#000" stroke-width="2" stroke-linejoin="round" stroke-linecap="round" />
<rect x="58.5" y="16.5" width="776" height="122.5" fill="none" stroke="#bdbdbd" stroke-width="1.3" />
<rect x="58.5" y="139" width="776" height="350" fill="none" stroke="#bdbdbd" stroke-width="1.3" />
<rect x="58.5" y="507.5" width="776" height="121.5" fill="none" stroke="#bdbdbd" stroke-width="1.3" />
<line x1="62.5" y1="489" x2="62.5" y2="491.5" stroke="#b0b0b0" stroke-width="1" />
<line x1="62.5" y1="505" x2="62.5" y2="507.5" stroke="#b0b0b0" stroke-width="1" />
<line x1="70.5" y1="489" x2="70.5" y2="491.5" stroke="#b0b0b0" stroke-width="1" />
<line x1="70.5" y1="505" x2="70.5" y2="507.5" stroke="#b0b0b0" stroke-width="1" />
<line x1="78.5" y1="489" x2="78.5" y2="491.5" stroke="#b0b0b0" stroke-width="1" />
<line x1="78.5" y1="505" x2="78.5" y2="507.5" stroke="#b0b0b0" stroke-width="1" />
<line x1="85.5" y1="489" x2="85.5" y2="491.5" stroke="#b0b0b0" stroke-width="1" />
<line x1="85.5" y1="505" x2="85.5" y2="507.5" stroke="#b0b0b0" stroke-width="1" />
<line x1="93.5" y1="489" x2="93.5" y2="491.5" stroke="#b0b0b0" stroke-width="1" />
<line x1="93.5" y1="505" x2="93.5" y2="507.5" stroke="#b0b0b0" stroke-width="1" />
<line x1="101.5" y1="489" x2="101.5" y2="491.5" stroke="#b0b0b0" stroke-width="1" />
<line x1="101.5" y1="505" x2="101.5" y2="507.5" stroke="#b0b0b0" stroke-width="1" />
<line x1="108.5" y1="489" x2="108.5" y2="491.5" stroke="#b0b0b0" stroke-width="1" />
<line x1="108.5" y1="505" x2="108.5" y2="507.5" stroke="#b0b0b0" stroke-width="1" />
<line x1="116.5" y1="489" x2="116.5" y2="491.5" stroke="#b0b0b0" stroke-width="1" />
<line x1="116.5" y1="505" x2="116.5" y2="507.5" stroke="#b0b0b0" stroke-width="1" />
<line x1="124.5" y1="489" x2="124.5" y2="491.5" stroke="#b0b0b0" stroke-width="1" />
<line x1="124.5" y1="505" x2="124.5" y2="507.5" stroke="#b0b0b0" stroke-width="1" />
<line x1="132.5" y1="489" x2="132.5" y2="491.5" stroke="#b0b0b0" stroke-width="1" />
<line x1="132.5" y1="505" x2="132.5" y2="507.5" stroke="#b0b0b0" stroke-width="1" />
<line x1="139.5" y1="489" x2="139.5" y2="491.5" stroke="#b0b0b0" stroke-width="1" />
<line x1="139.5" y1="505" x2="139.5" y2="507.5" stroke="#b0b0b0" stroke-width="1" />
<line x1="147.5" y1="489" x2="147.5" y2="491.5" stroke="#b0b0b0" stroke-width="1" />
<line x1="147.5" y1="505" x2="147.5" y2="507.5" stroke="#b0b0b0" stroke-width="1" />
<line x1="155.5" y1="489" x2="155.5" y2="491.5" stroke="#b0b0b0" stroke-width="1" />
<line x1="155.5" y1="505" x2="155.5" y2="507.5" stroke="#b0b0b0" stroke-width="1" />
<line x1="162.5" y1="489" x2="162.5" y2="491.5" stroke="#b0b0b0" stroke-width="1" />
<line x1="162.5" y1="505" x2="162.5" y2="507.5" stroke="#b0b0b0" stroke-width="1" />
<line x1="170.5" y1="489" x2="170.5" y2="491.5" stroke="#b0b0b0" stroke-width="1" />
<line x1="170.5" y1="505" x2="170.5" y2="507.5" stroke="#b0b0b0" stroke-width="1" />
<line x1="178.5" y1="489" x2="178.5" y2="491.5" stroke="#b0b0b0" stroke-width="1" />
<line x1="178.5" y1="505" x2="178.5" y2="507.5" stroke="#b0b0b0" stroke-width="1" />
<line x1="186.5" y1="489" x2="186.5" y2="491.5" stroke="#b0b0b0" stroke-width="1" />
<line x1="186.5" y1="505" x2="186.5" y2="507.5" stroke="#b0b0b0" stroke-width="1" />
<line x1="193.5" y1="489" x2="193.5" y2="491.5" stroke="#b0b0b0" stroke-width="1" />
<line x1="193.5" y1="505" x2="193.5" y2="507.5" stroke="#b0b0b0" stroke-width="1" />
<line x1="201.5" y1="489" x2="201.5" y2="491.5" stroke="#b0b0b0" stroke-width="1" />
<line x1="201.5" y1="505" x2="201.5" y2="507.5" stroke="#b0b0b0" stroke-width="1" />
<line x1="209.5" y1="489" x2="209.5" y2="491.5" stroke="#b0b0b0" stroke-width="1" />
<line x1="209.5" y1="505" x2="209.5" y2="507.5" stroke="#b0b0b0" stroke-width="1" />
<line x1="216.5" y1="489" x2="216.5" y2="491.5" stroke="#b0b0b0" stroke-width="1" />
<line x1="216.5" y1="505" x2="216.5" y2="507.5" stroke="#b0b0b0" stroke-width="1" />
<line x1="224.5" y1="489" x2="224.5" y2="491.5" stroke="#b0b0b0" stroke-width="1" />
<line x1="224.5" y1="505" x2="224.5" y2="507.5" stroke="#b0b0b0" stroke-width="1" />
<line x1="232.5" y1="489" x2="232.5" y2="491.5" stroke="#b0b0b0" stroke-width="1" />
<line x1="232.5" y1="505" x2="232.5" y2="507.5" stroke="#b0b0b0" stroke-width="1" />
<line x1="240.5" y1="489" x2="240.5" y2="491.5" stroke="#b0b0b0" stroke-width="1" />
<line x1="240.5" y1="505" x2="240.5" y2="507.5" stroke="#b0b0b0" stroke-width="1" />
<line x1="247.5" y1="489" x2="247.5" y2="491.5" stroke="#b0b0b0" stroke-width="1" />
<line x1="247.5" y1="505" x2="247.5" y2="507.5" stroke="#b0b0b0" stroke-width="1" />
<line x1="255.5" y1="489" x2="255.5" y2="491.5" stroke="#b0b0b0" stroke-width="1" />
<line x1="255.5" y1="505" x2="255.5" y2="507.5" stroke="#b0b0b0" stroke-width="1" />
<line x1="263.5" y1="489" x2="263.5" y2="491.5" stroke="#b0b0b0" stroke-width="1" />
<line x1="263.5" y1="505" x2="263.5" y2="507.5" stroke="#b0b0b0" stroke-width="1" />
<line x1="270.5" y1="489" x2="270.5" y2="491.5" stroke="#b0b0b0" stroke-width="1" />
<line x1="270.5" y1="505" x2="270.5" y2="507.5" stroke="#b0b0b0" stroke-width="1" />
<line x1="278.5" y1="489" x2="278.5" y2="491.5" stroke="#b0b0b0" stroke-width="1" />
<line x1="278.5" y1="505" x2="278.5" y2="507.5" stroke="#b0b0b0" stroke-width="1" />
<line x1="286.5" y1="489" x2="286.5" y2="491.5" stroke="#b0b0b0" stroke-width="1" />
<line x1="286.5" y1="505" x2="286.5" y2="507.5" stroke="#b0b0b0" stroke-width="1" />
<line x1="294.5" y1="489" x2="294.5" y2="491.5" stroke="#b0b0b0" stroke-width="1" />
<line x1="294.5" y1="505" x2="294.5" y2="507.5" stroke="#b0b0b0" stroke-width="1" />
<line x1="301.5" y1="489" x2="301.5" y2="491.5" stroke="#b0b0b0" stroke-width="1" />
<line x1="301.5" y1="505" x2="301.5" y2="507.5" stroke="#b0b0b0" stroke-width="1" />
<line x1="309.5" y1="489" x2="309.5" y2="491.5" stroke="#b0b0b0" stroke-width="1" />
<line x1="309.5" y1="505" x2="309.5" y2="507.5" stroke="#b0b0b0" stroke-width="1" />
<line x1="317.5" y1="489" x2="317.5" y2="491.5" stroke="#b0b0b0" stroke-width="1" />
<line x1="317.5" y1="505" x2="317.5" y2="507.5" stroke="#b0b0b0" stroke-width="1" />
<line x1="324.5" y1="489" x2="324.5" y2="491.5" stroke="#b0b0b0" stroke-width="1" />
<line x1="324.5" y1="505" x2="324.5" y2="507.5" stroke="#b0b0b0" stroke-width="1" />
<line x1="332.5" y1="489" x2="332.5" y2="491.5" stroke="#b0b0b0" stroke-width="1" />
<line x1="332.5" y1="505" x2="332.5" y2="507.5" stroke="#b0b0b0" stroke-width="1" />
<line x1="340.5" y1="489" x2="340.5" y2="491.5" stroke="#b0b0b0" stroke-width="1" />
<line x1="340.5" y1="505" x2="340.5" y2="507.5" stroke="#b0b0b0" stroke-width="1" />
<line x1="348.5" y1="489" x2="348.5" y2="491.5" stroke="#b0b0b0" stroke-width="1" />
<line x1="348.5" y1="505" x2="348.5" y2="507.5" stroke="#b0b0b0" stroke-width="1" />
<line x1="355.5" y1="489" x2="355.5" y2="491.5" stroke="#b0b0b0" stroke-width="1" />
<line x1="355.5" y1="505" x2="355.5" y2="507.5" stroke="#b0b0b0" stroke-width="1" />
<line x1="363.5" y1="489" x2="363.5" y2="491.5" stroke="#b0b0b0" stroke-width="1" />
<line x1="363.5" y1="505" x2="363.5" y2="507.5" stroke="#b0b0b0" stroke-width="1" />
<line x1="371.5" y1="489" x2="371.5" y2="491.5" stroke="#b0b0b0" stroke-width="1" />
<line x1="371.5" y1="505" x2="371.5" y2="507.5" stroke="#b0b0b0" stroke-width="1" />
<line x1="378.5" y1="489" x2="378.5" y2="491.5" stroke="#b0b0b0" stroke-width="1" />
<line x1="378.5" y1="505" x2="378.5" y2="507.5" stroke="#b0b0b0" stroke-width="1" />
<line x1="386.5" y1="489" x2="386.5" y2="491.5" stroke="#b0b0b0" stroke-width="1" />
<line x1="386.5" y1="505" x2="386.5" y2="507.5" stroke="#b0b0b0" stroke-width="1" />
<line x1="394.5" y1="489" x2="394.5" y2="491.5" stroke="#b0b0b0" stroke-width="1" />
<line x1="394.5" y1="505" x2="394.5" y2="507.5" stroke="#b0b0b0" stroke-width="1" />
<line x1="402.5" y1="489" x2="402.5" y2="491.5" stroke="#b0b0b0" stroke-width="1" />
<line x1="402.5" y1="505" x2="402.5" y2="507.5" stroke="#b0b0b0" stroke-width="1" />
<line x1="409.5" y1="489" x2="409.5" y2="491.5" stroke="#b0b0b0" stroke-width="1" />
<line x1="409.5" y1="505" x2="409.5" y2="507.5" stroke="#b0b0b0" stroke-width="1" />
<line x1="417.5" y1="489" x2="417.5" y2="491.5" stroke="#b0b0b0" stroke-width="1" />
<line x1="417.5" y1="505" x2="417.5" y2="507.5" stroke="#b0b0b0" stroke-width="1" />
<line x1="425.5" y1="489" x2="425.5" y2="491.5" stroke="#b0b0b0" stroke-width="1" />
<line x1="425.5" y1="505" x2="425.5" y2="507.5" stroke="#b0b0b0" stroke-width="1" />
<line x1="432.5" y1="489" x2="432.5" y2="491.5" stroke="#b0b0b0" stroke-width="1" />
<line x1="432.5" y1="505" x2="432.5" y2="507.5" stroke="#b0b0b0" stroke-width="1" />
<line x1="440.5" y1="489" x2="440.5" y2="491.5" stroke="#b0b0b0" stroke-width="1" />
<line x1="440.5" y1="505" x2="440.5" y2="507.5" stroke="#b0b0b0" stroke-width="1" />
<line x1="448.5" y1="489" x2="448.5" y2="491.5" stroke="#b0b0b0" stroke-width="1" />
<line x1="448.5" y1="505" x2="448.5" y2="507.5" stroke="#b0b0b0" stroke-width="1" />
<line x1="456.5" y1="489" x2="456.5" y2="491.5" stroke="#b0b0b0" stroke-width="1" />
<line x1="456.5" y1="505" x2="456.5" y2="507.5" stroke="#b0b0b0" stroke-width="1" />
<line x1="463.5" y1="489" x2="463.5" y2="491.5" stroke="#b0b0b0" stroke-width="1" />
<line x1="463.5" y1="505" x2="463.5" y2="507.5" stroke="#b0b0b0" stroke-width="1" />
<line x1="471.5" y1="489" x2="471.5" y2="491.5" stroke="#b0b0b0" stroke-width="1" />
<line x1="471.5" y1="505" x2="471.5" y2="507.5" stroke="#b0b0b0" stroke-width="1" />
<line x1="479.5" y1="489" x2="479.5" y2="491.5" stroke="#b0b0b0" stroke-width="1" />
<line x1="479.5" y1="505" x2="479.5" y2="507.5" stroke="#b0b0b0" stroke-width="1" />
<line x1="486.5" y1="489" x2="486.5" y2="491.5" stroke="#b0b0b0" stroke-width="1" />
<line x1="486.5" y1="505" x2="486.5" y2="507.5" stroke="#b0b0b0" stroke-width="1" />
<line x1="494.5" y1="489" x2="494.5" y2="491.5" stroke="#b0b0b0" stroke-width="1" />
<line x1="494.5" y1="505" x2="494.5" y2="507.5" stroke="#b0b0b0" stroke-width="1" />
<line x1="502.5" y1="489" x2="502.5" y2="491.5" stroke="#b0b0b0" stroke-width="1" />
<line x1="502.5" y1="505" x2="502.5" y2="507.5" stroke="#b0b0b0" stroke-width="1" />
<line x1="510.5" y1="489" x2="510.5" y2="491.5" stroke="#b0b0b0" stroke-width="1" />
<line x1="510.5" y1="505" x2="510.5" y2="507.5" stroke="#b0b0b0" stroke-width="1" />
<line x1="517.5" y1="489" x2="517.5" y2="491.5" stroke="#b0b0b0" stroke-width="1" />
<line x1="517.5" y1="505" x2="517.5" y2="507.5" stroke="#b0b0b0" stroke-width="1" />
<line x1="525.5" y1="489" x2="525.5" y2="491.5" stroke="#b0b0b0" stroke-width="1" />
<line x1="525.5" y1="505" x2="525.5" y2="507.5" stroke="#b0b0b0" stroke-width="1" />
<line x1="533.5" y1="489" x2="533.5" y2="491.5" stroke="#b0b0b0" stroke-width="1" />
<line x1="533.5" y1="505" x2="533.5" y2="507.5" stroke="#b0b0b0" stroke-width="1" />
<line x1="540.5" y1="489" x2="540.5" y2="491.5" stroke="#b0b0b0" stroke-width="1" />
<line x1="540.5" y1="505" x2="540.5" y2="507.5" stroke="#b0b0b0" stroke-width="1" />
<line x1="548.5" y1="489" x2="548.5" y2="491.5" stroke="#b0b0b0" stroke-width="1" />
<line x1="548.5" y1="505" x2="548.5" y2="507.5" stroke="#b0b0b0" stroke-width="1" />
<line x1="556.5" y1="489" x2="556.5" y2="491.5" stroke="#b0b0b0" stroke-width="1" />
<line x1="556.5" y1="505" x2="556.5" y2="507.5" stroke="#b0b0b0" stroke-width="1" />
<line x1="564.5" y1="489" x2="564.5" y2="491.5" stroke="#b0b0b0" stroke-width="1" />
<line x1="564.5" y1="505" x2="564.5" y2="507.5" stroke="#b0b0b0" stroke-width="1" />
<line x1="571.5" y1="489" x2="571.5" y2="491.5" stroke="#b0b0b0" stroke-width="1" />
<line x1="571.5" y1="505" x2="571.5" y2="507.5" stroke="#b0b0b0" stroke-width="1" />
<line x1="579.5" y1="489" x2="579.5" y2="491.5" stroke="#b0b0b0" stroke-width="1" />
<line x1="579.5" y1="505" x2="579.5" y2="507.5" stroke="#b0b0b0" stroke-width="1" />
<line x1="587.5" y1="489" x2="587.5" y2="491.5" stroke="#b0b0b0" stroke-width="1" />
<line x1="587.5" y1="505" x2="587.5" y2="507.5" stroke="#b0b0b0" stroke-width="1" />
<line x1="594.5" y1="489" x2="594.5" y2="491.5" stroke="#b0b0b0" stroke-width="1" />
<line x1="594.5" y1="505" x2="594.5" y2="507.5" stroke="#b0b0b0" stroke-width="1" />
<line x1="602.5" y1="489" x2="602.5" y2="491.5" stroke="#b0b0b0" stroke-width="1" />
<line x1="602.5" y1="505" x2="602.5" y2="507.5" stroke="#b0b0b0" stroke-width="1" />
<line x1="610.5" y1="489" x2="610.5" y2="491.5" stroke="#b0b0b0" stroke-width="1" />
<line x1="610.5" y1="505" x2="610.5" y2="507.5" stroke="#b0b0b0" stroke-width="1" />
<line x1="618.5" y1="489" x2="618.5" y2="491.5" stroke="#b0b0b0" stroke-width="1" />
<line x1="618.5" y1="505" x2="618.5" y2="507.5" stroke="#b0b0b0" stroke-width="1" />
<line x1="625.5" y1="489" x2="625.5" y2="491.5" stroke="#b0b0b0" stroke-width="1" />
<line x1="625.5" y1="505" x2="625.5" y2="507.5" stroke="#b0b0b0" stroke-width="1" />
<line x1="633.5" y1="489" x2="633.5" y2="491.5" stroke="#b0b0b0" stroke-width="1" />
<line x1="633.5" y1="505" x2="633.5" y2="507.5" stroke="#b0b0b0" stroke-width="1" />
<line x1="641.5" y1="489" x2="641.5" y2="491.5" stroke="#b0b0b0" stroke-width="1" />
<line x1="641.5" y1="505" x2="641.5" y2="507.5" stroke="#b0b0b0" stroke-width="1" />
<line x1="648.5" y1="489" x2="648.5" y2="491.5" stroke="#b0b0b0" stroke-width="1" />
<line x1="648.5" y1="505" x2="648.5" y2="507.5" stroke="#b0b0b0" stroke-width="1" />
<line x1="656.5" y1="489" x2="656.5" y2="491.5" stroke="#b0b0b0" stroke-width="1" />
<line x1="656.5" y1="505" x2="656.5" y2="507.5" stroke="#b0b0b0" stroke-width="1" />
<line x1="664.5" y1="489" x2="664.5" y2="491.5" stroke="#b0b0b0" stroke-width="1" />
<line x1="664.5" y1="505" x2="664.5" y2="507.5" stroke="#b0b0b0" stroke-width="1" />
<line x1="672.5" y1="489" x2="672.5" y2="491.5" stroke="#b0b0b0" stroke-width="1" />
<line x1="672.5" y1="505" x2="672.5" y2="507.5" stroke="#b0b0b0" stroke-width="1" />
<line x1="679.5" y1="489" x2="679.5" y2="491.5" stroke="#b0b0b0" stroke-width="1" />
<line x1="679.5" y1="505" x2="679.5" y2="507.5" stroke="#b0b0b0" stroke-width="1" />
<line x1="687.5" y1="489" x2="687.5" y2="491.5" stroke="#b0b0b0" stroke-width="1" />
<line x1="687.5" y1="505" x2="687.5" y2="507.5" stroke="#b0b0b0" stroke-width="1" />
<line x1="695.5" y1="489" x2="695.5" y2="491.5" stroke="#b0b0b0" stroke-width="1" />
<line x1="695.5" y1="505" x2="695.5" y2="507.5" stroke="#b0b0b0" stroke-width="1" />
<line x1="702.5" y1="489" x2="702.5" y2="491.5" stroke="#b0b0b0" stroke-width="1" />
<line x1="702.5" y1="505" x2="702.5" y2="507.5" stroke="#b0b0b0" stroke-width="1" />
<line x1="710.5" y1="489" x2="710.5" y2="491.5" stroke="#b0b0b0" stroke-width="1" />
<line x1="710.5" y1="505" x2="710.5" y2="507.5" stroke="#b0b0b0" stroke-width="1" />
<line x1="718.5" y1="489" x2="718.5" y2="491.5" stroke="#b0b0b0" stroke-width="1" />
<line x1="718.5" y1="505" x2="718.5" y2="507.5" stroke="#b0b0b0" stroke-width="1" />
<line x1="726.5" y1="489" x2="726.5" y2="491.5" stroke="#b0b0b0" stroke-width="1" />
<line x1="726.5" y1="505" x2="726.5" y2="507.5" stroke="#b0b0b0" stroke-width="1" />
<line x1="733.5" y1="489" x2="733.5" y2="491.5" stroke="#b0b0b0" stroke-width="1" />
<line x1="733.5" y1="505" x2="733.5" y2="507.5" stroke="#b0b0b0" stroke-width="1" />
<line x1="741.5" y1="489" x2="741.5" y2="491.5" stroke="#b0b0b0" stroke-width="1" />
<line x1="741.5" y1="505" x2="741.5" y2="507.5" stroke="#b0b0b0" stroke-width="1" />
<line x1="749.5" y1="489" x2="749.5" y2="491.5" stroke="#b0b0b0" stroke-width="1" />
<line x1="749.5" y1="505" x2="749.5" y2="507.5" stroke="#b0b0b0" stroke-width="1" />
<line x1="756.5" y1="489" x2="756.5" y2="491.5" stroke="#b0b0b0" stroke-width="1" />
<line x1="756.5" y1="505" x2="756.5" y2="507.5" stroke="#b0b0b0" stroke-width="1" />
<line x1="764.5" y1="489" x2="764.5" y2="491.5" stroke="#b0b0b0" stroke-width="1" />
<line x1="764.5" y1="505" x2="764.5" y2="507.5" stroke="#b0b0b0" stroke-width="1" />
<line x1="772.5" y1="489" x2="772.5" y2="491.5" stroke="#b0b0b0" stroke-width="1" />
<line x1="772.5" y1="505" x2="772.5" y2="507.5" stroke="#b0b0b0" stroke-width="1" />
<line x1="780.5" y1="489" x2="780.5" y2="491.5" stroke="#b0b0b0" stroke-width="1" />
<line x1="780.5" y1="505" x2="780.5" y2="507.5" stroke="#b0b0b0" stroke-width="1" />
<line x1="787.5" y1="489" x2="787.5" y2="491.5" stroke="#b0b0b0" stroke-width="1" />
<line x1="787.5" y1="505" x2="787.5" y2="507.5" stroke="#b0b0b0" stroke-width="1" />
<line x1="795.5" y1="489" x2="795.5" y2="491.5" stroke="#b0b0b0" stroke-width="1" />
<line x1="795.5" y1="505" x2="795.5" y2="507.5" stroke="#b0b0b0" stroke-width="1" />
<line x1="803.5" y1="489" x2="803.5" y2="491.5" stroke="#b0b0b0" stroke-width="1" />
<line x1="803.5" y1="505" x2="803.5" y2="507.5" stroke="#b0b0b0" stroke-width="1" />
<line x1="810.5" y1="489" x2="810.5" y2="491.5" stroke="#b0b0b0" stroke-width="1" />
<line x1="810.5" y1="505" x2="810.5" y2="507.5" stroke="#b0b0b0" stroke-width="1" />
<line x1="818.5" y1="489" x2="818.5" y2="491.5" stroke="#b0b0b0" stroke-width="1" />
<line x1="818.5" y1="505" x2="818.5" y2="507.5" stroke="#b0b0b0" stroke-width="1" />
<line x1="826.5" y1="489" x2="826.5" y2="491.5" stroke="#b0b0b0" stroke-width="1" />
<line x1="826.5" y1="505" x2="826.5" y2="507.5" stroke="#b0b0b0" stroke-width="1" />
<line x1="834.5" y1="451.06" x2="837" y2="451.06" stroke="#c8c8c8" stroke-width="1" />
<line x1="834.5" y1="441.43" x2="837" y2="441.43" stroke="#c8c8c8" stroke-width="1" />
<line x1="834.5" y1="432.16" x2="837" y2="432.16" stroke="#c8c8c8" stroke-width="1" />
<line x1="834.5" y1="423.23" x2="837" y2="423.23" stroke="#c8c8c8" stroke-width="1" />
<line x1="834.5" y1="414.61" x2="837" y2="414.61" stroke="#c8c8c8" stroke-width="1" />
<line x1="834.5" y1="406.28" x2="837" y2="406.28" stroke="#c8c8c8" stroke-width="1" />
<line x1="834.5" y1="398.23" x2="837" y2="398.23" stroke="#c8c8c8" stroke-width="1" />
<line x1="834.5" y1="390.43" x2="837" y2="390.43" stroke="#c8c8c8" stroke-width="1" />
<line x1="834.5" y1="382.87" x2="837" y2="382.87" stroke="#c8c8c8" stroke-width="1" />
<line x1="834.5" y1="375.54" x2="837" y2="375.54" stroke="#c8c8c8" stroke-width="1" />
<line x1="834.5" y1="368.42" x2="837" y2="368.42" stroke="#c8c8c8" stroke-width="1" />
<line x1="834.5" y1="361.5" x2="837" y2="361.5" stroke="#c8c8c8" stroke-width="1" />
<line x1="834.5" y1="354.77" x2="837" y2="354.77" stroke="#c8c8c8" stroke-width="1" />
<line x1="834.5" y1="348.22" x2="837" y2="348.22" stroke="#c8c8c8" stroke-width="1" />
<line x1="834.5" y1="341.84" x2="837" y2="341.84" stroke="#c8c8c8" stroke-width="1" />
<line x1="834.5" y1="335.63" x2="837" y2="335.63" stroke="#c8c8c8" stroke-width="1" />
<line x1="834.5" y1="329.56" x2="837" y2="329.56" stroke="#c8c8c8" stroke-width="1" />
<line x1="834.5" y1="323.64" x2="837" y2="323.64" stroke="#c8c8c8" stroke-width="1" />
<line x1="834.5" y1="317.86" x2="837" y2="317.86" stroke="#c8c8c8" stroke-width="1" />
<line x1="834.5" y1="312.22" x2="837" y2="312.22" stroke="#c8c8c8" stroke-width="1" />
<line x1="834.5" y1="306.7" x2="837" y2="306.7" stroke="#c8c8c8" stroke-width="1" />
<line x1="834.5" y1="301.3" x2="837" y2="301.3" stroke="#c8c8c8" stroke-width="1" />
<line x1="834.5" y1="296.02" x2="837" y2="296.02" stroke="#c8c8c8" stroke-width="1" />
<line x1="834.5" y1="290.85" x2="837" y2="290.85" stroke="#c8c8c8" stroke-width="1" />
<line x1="834.5" y1="285.78" x2="837" y2="285.78" stroke="#c8c8c8" stroke-width="1" />
<line x1="834.5" y1="280.82" x2="837" y2="280.82" stroke="#c8c8c8" stroke-width="1" />
<line x1="834.5" y1="275.96" x2="837" y2="275.96" stroke="#c8c8c8" stroke-width="1" />
<line x1="834.5" y1="271.19" x2="837" y2="271.19" stroke="#c8c8c8" stroke-width="1" />
<line x1="834.5" y1="266.51" x2="837" y2="266.51" stroke="#c8c8c8" stroke-width="1" />
<line x1="834.5" y1="261.92" x2="837" y2="261.92" stroke="#c8c8c8" stroke-width="1" />
<line x1="834.5" y1="257.41" x2="837" y2="257.41" stroke="#c8c8c8" stroke-width="1" />
<line x1="834.5" y1="252.99" x2="837" y2="252.99" stroke="#c8c8c8" stroke-width="1" />
<line x1="834.5" y1="248.64" x2="837" y2="248.64" stroke="#c8c8c8" stroke-width="1" />
<line x1="834.5" y1="244.37" x2="837" y2="244.37" stroke="#c8c8c8" stroke-width="1" />
<line x1="834.5" y1="240.17" x2="837" y2="240.17" stroke="#c8c8c8" stroke-width="1" />
<line x1="834.5" y1="236.04" x2="837" y2="236.04" stroke="#c8c8c8" stroke-width="1" />
<line x1="834.5" y1="231.98" x2="837" y2="231.98" stroke="#c8c8c8" stroke-width="1" />
<line x1="834.5" y1="227.99" x2="837" y2="227.99" stroke="#c8c8c8" stroke-width="1" />
<line x1="834.5" y1="224.06" x2="837" y2="224.06" stroke="#c8c8c8" stroke-width="1" />
<line x1="834.5" y1="220.19" x2="837" y2="220.19" stroke="#c8c8c8" stroke-width="1" />
<line x1="834.5" y1="216.39" x2="837" y2="216.39" stroke="#c8c8c8" stroke-width="1" />
<line x1="834.5" y1="212.64" x2="837" y2="212.64" stroke="#c8c8c8" stroke-width="1" />
<line x1="834.5" y1="208.94" x2="837" y2="208.94" stroke="#c8c8c8" stroke-width="1" />
<line x1="834.5" y1="205.3" x2="837" y2="205.3" stroke="#c8c8c8" stroke-width="1" />
<line x1="834.5" y1="201.72" x2="837" y2="201.72" stroke="#c8c8c8" stroke-width="1" />
<line x1="834.5" y1="198.18" x2="837" y2="198.18" stroke="#c8c8c8" stroke-width="1" />
<line x1="834.5" y1="194.7" x2="837" y2="194.7" stroke="#c8c8c8" stroke-width="1" />
<line x1="834.5" y1="191.27" x2="837" y2="191.27" stroke="#c8c8c8" stroke-width="1" />
<line x1="834.5" y1="187.88" x2="837" y2="187.88" stroke="#c8c8c8" stroke-width="1" />
<line x1="834.5" y1="184.54" x2="837" y2="184.54" stroke="#c8c8c8" stroke-width="1" />
<line x1="834.5" y1="181.24" x2="837" y2="181.24" stroke="#c8c8c8" stroke-width="1" />
<line x1="834.5" y1="177.99" x2="837" y2="177.99" stroke="#c8c8c8" stroke-width="1" />
<line x1="834.5" y1="174.78" x2="837" y2="174.78" stroke="#c8c8c8" stroke-width="1" />
<line x1="834.5" y1="171.61" x2="837" y2="171.61" stroke="#c8c8c8" stroke-width="1" />
<line x1="834.5" y1="168.48" x2="837" y2="168.48" stroke="#c8c8c8" stroke-width="1" />
<line x1="834.5" y1="165.39" x2="837" y2="165.39" stroke="#c8c8c8" stroke-width="1" />
<line x1="834.5" y1="162.34" x2="837" y2="162.34" stroke="#c8c8c8" stroke-width="1" />
<line x1="834.5" y1="159.32" x2="837" y2="159.32" stroke="#c8c8c8" stroke-width="1" />
<line x1="834.5" y1="156.35" x2="837" y2="156.35" stroke="#c8c8c8" stroke-width="1" />
<line x1="834.5" y1="153.41" x2="837" y2="153.41" stroke="#c8c8c8" stroke-width="1" />
<line x1="834.5" y1="150.5" x2="837" y2="150.5" stroke="#c8c8c8" stroke-width="1" />
<line x1="834.5" y1="132" x2="837" y2="132" stroke="#c8c8c8" stroke-width="1" />
<line x1="834.5" y1="126.65" x2="837" y2="126.65" stroke="#c8c8c8" stroke-width="1" />
<line x1="834.5" y1="121.3" x2="837" y2="121.3" stroke="#c8c8c8" stroke-width="1" />
<line x1="834.5" y1="115.95" x2="837" y2="115.95" stroke="#c8c8c8" stroke-width="1" />
<line x1="834.5" y1="110.6" x2="837" y2="110.6" stroke="#c8c8c8" stroke-width="1" />
<line x1="834.5" y1="105.25" x2="837" y2="105.25" stroke="#c8c8c8" stroke-width="1" />
<line x1="834.5" y1="99.9" x2="837" y2="99.9" stroke="#c8c8c8" stroke-width="1" />
<line x1="834.5" y1="94.55" x2="837" y2="94.55" stroke="#c8c8c8" stroke-width="1" />
<line x1="834.5" y1="89.2" x2="837" y2="89.2" stroke="#c8c8c8" stroke-width="1" />
<line x1="834.5" y1="83.85" x2="837" y2="83.85" stroke="#c8c8c8" stroke-width="1" />
<line x1="834.5" y1="78.5" x2="837" y2="78.5" stroke="#c8c8c8" stroke-width="1" />
<line x1="834.5" y1="73.15" x2="837" y2="73.15" stroke="#c8c8c8" stroke-width="1" />
<line x1="834.5" y1="67.8" x2="837" y2="67.8" stroke="#c8c8c8" stroke-width="1" />
<line x1="834.5" y1="62.45" x2="837" y2="62.45" stroke="#c8c8c8" stroke-width="1" />
<line x1="834.5" y1="57.1" x2="837" y2="57.1" stroke="#c8c8c8" stroke-width="1" />
<line x1="834.5" y1="51.75" x2="837" y2="51.75" stroke="#c8c8c8" stroke-width="1" />
<line x1="834.5" y1="46.4" x2="837" y2="46.4" stroke="#c8c8c8" stroke-width="1" />
<line x1="834.5" y1="41.05" x2="837" y2="41.05" stroke="#c8c8c8" stroke-width="1" />
<line x1="834.5" y1="35.7" x2="837" y2="35.7" stroke="#c8c8c8" stroke-width="1" />
<line x1="834.5" y1="30.35" x2="837" y2="30.35" stroke="#c8c8c8" stroke-width="1" />
<line x1="834.5" y1="25" x2="837" y2="25" stroke="#c8c8c8" stroke-width="1" />
<line x1="834.5" y1="622.52" x2="837" y2="622.52" stroke="#c8c8c8" stroke-width="1" />
<line x1="834.5" y1="615.5" x2="837" y2="615.5" stroke="#c8c8c8" stroke-width="1" />
<line x1="834.5" y1="608.47" x2="837" y2="608.47" stroke="#c8c8c8" stroke-width="1" />
<line x1="834.5" y1="601.45" x2="837" y2="601.45" stroke="#c8c8c8" stroke-width="1" />
<line x1="834.5" y1="594.42" x2="837" y2="594.42" stroke="#c8c8c8" stroke-width="1" />
<line x1="834.5" y1="587.4" x2="837" y2="587.4" stroke="#c8c8c8" stroke-width="1" />
<line x1="834.5" y1="580.38" x2="837" y2="580.38" stroke="#c8c8c8" stroke-width="1" />
<line x1="834.5" y1="573.35" x2="837" y2="573.35" stroke="#c8c8c8" stroke-width="1" />
<line x1="834.5" y1="566.32" x2="837" y2="566.32" stroke="#c8c8c8" stroke-width="1" />
<line x1="834.5" y1="559.3" x2="837" y2="559.3" stroke="#c8c8c8" stroke-width="1" />
<line x1="834.5" y1="552.27" x2="837" y2="552.27" stroke="#c8c8c8" stroke-width="1" />
<line x1="834.5" y1="545.25" x2="837" y2="545.25" stroke="#c8c8c8" stroke-width="1" />
<line x1="834.5" y1="538.22" x2="837" y2="538.22" stroke="#c8c8c8" stroke-width="1" />
<line x1="834.5" y1="531.2" x2="837" y2="531.2" stroke="#c8c8c8" stroke-width="1" />
<line x1="834.5" y1="524.17" x2="837" y2="524.17" stroke="#c8c8c8" stroke-width="1" />
<line x1="834.5" y1="517.15" x2="837" y2="517.15" stroke="#c8c8c8" stroke-width="1" />
<line x1="834.5" y1="510.12" x2="837" y2="510.12" stroke="#c8c8c8" stroke-width="1" />
<line x1="55.5" y1="464.7" x2="58.5" y2="464.7" stroke="#b0b0b0" stroke-width="1" />
<line x1="55.5" y1="440.9" x2="58.5" y2="440.9" stroke="#b0b0b0" stroke-width="1" />
<line x1="55.5" y1="417.1" x2="58.5" y2="417.1" stroke="#b0b0b0" stroke-width="1" />
<line x1="55.5" y1="393.3" x2="58.5" y2="393.3" stroke="#b0b0b0" stroke-width="1" />
<line x1="55.5" y1="369.5" x2="58.5" y2="369.5" stroke="#b0b0b0" stroke-width="1" />
<g font-family="Liberation Sans, sans-serif">
<text x="59" y="13.5" font-size="12" fill="#111" font-weight="normal" text-anchor="start" textLength="123.8" lengthAdjust="spacing" >11-Aug-2022 1:31pm</text>
<text x="257.3" y="13.3" font-size="13" fill="#000" font-weight="bold" text-anchor="start" textLength="35.3" lengthAdjust="spacing" >Open</text>
<text x="298.1" y="13.3" font-size="11.5" fill="#111" font-weight="normal" text-anchor="start" textLength="39.4" lengthAdjust="spacing" >166.17</text>
<text x="346.2" y="13.3" font-size="13" fill="#000" font-weight="bold" text-anchor="start" textLength="29" lengthAdjust="spacing" >High</text>
<text x="381.6" y="13.3" font-size="11.5" fill="#111" font-weight="normal" text-anchor="start" textLength="39.4" lengthAdjust="spacing" >179.95</text>
<text x="429.6" y="13.3" font-size="13" fill="#000" font-weight="bold" text-anchor="start" textLength="28.6" lengthAdjust="spacing" >Low</text>
<text x="464.9" y="13.3" font-size="11.5" fill="#111" font-weight="normal" text-anchor="start" textLength="39.2" lengthAdjust="spacing" >159.00</text>
<text x="512.2" y="13.3" font-size="13" fill="#000" font-weight="bold" text-anchor="start" textLength="29.6" lengthAdjust="spacing" >Last</text>
<text x="548" y="13.3" font-size="11.5" fill="#111" font-weight="normal" text-anchor="start" textLength="39" lengthAdjust="spacing" >171.09</text>
<text x="596.5" y="13.3" font-size="13" fill="#000" font-weight="bold" text-anchor="start" textLength="52.4" lengthAdjust="spacing" >Volume</text>
<text x="653.7" y="13.3" font-size="11.5" fill="#111" font-weight="normal" text-anchor="start" textLength="36.5" lengthAdjust="spacing" >21.8M</text>
<text x="699.7" y="13.3" font-size="13" fill="#000" font-weight="bold" text-anchor="start" textLength="26" lengthAdjust="spacing" >Chg</text>
<text x="730.8" y="13.3" font-size="11.5" fill="#111" font-weight="normal" text-anchor="start" textLength="34" lengthAdjust="spacing" >+5.56</text>
<text x="768.2" y="13.3" font-size="11.5" fill="#111" font-weight="normal" text-anchor="start" textLength="53.5" lengthAdjust="spacing" >(+3.36%)</text>
<polygon points="825.3,12.8 834,12.8 829.65,7.1" fill="#2b6e2b"/>
<path d="M62.3,29.6 L62.3,26.5 L63.4,24.4 L64.5,21.8 L67.3,19.1 L68.3,22.5 L69.2,24.9 L71.4,24.6 L72.5,21.5 L72.5,29.6 Z" fill="#82b282"/>
<polyline points="62.3,29.6 62.3,26.5 63.4,24.4 64.5,21.8 67.3,19.1 68.3,22.5 69.2,24.9 71.4,24.6 72.5,21.5 72.5,29.6" fill="none" stroke="#000" stroke-width="1.2" stroke-linejoin="round"/>
<text transform="translate(78,30) scale(1.12,1)" x="0" y="0" font-size="11.5" fill="#111" textLength="47.32" lengthAdjust="spacing">RSI(14)</text>
<text transform="translate(138.1,30) scale(1.12,1)" x="0" y="0" font-size="11.5" fill="#111" textLength="34.02" lengthAdjust="spacing">46.64</text>
<text x="839" y="39.7" font-size="12" fill="#111" font-weight="normal" text-anchor="start" textLength="14.5" lengthAdjust="spacing" >90</text>
<text x="839" y="60.6" font-size="12" fill="#111" font-weight="normal" text-anchor="start" textLength="14.5" lengthAdjust="spacing" >70</text>
<text x="839" y="83" font-size="12" fill="#111" font-weight="normal" text-anchor="start" textLength="14.5" lengthAdjust="spacing" >50</text>
<text x="839" y="103.8" font-size="12" fill="#111" font-weight="normal" text-anchor="start" textLength="14.5" lengthAdjust="spacing" >30</text>
<text x="839" y="123.4" font-size="12" fill="#111" font-weight="normal" text-anchor="start" textLength="14.5" lengthAdjust="spacing" >10</text>
<path d="M832,81.3 L837.3,75.4 H873.2 V87.2 H837.3 Z" fill="#fff" stroke="#000" stroke-width="1.2"/>
<text x="838" y="85.8" font-size="12" fill="#000" font-weight="normal" text-anchor="start" textLength="34" lengthAdjust="spacing" >46.64</text>
<g stroke="#000" stroke-width="1.1"><line x1="63.8" y1="142.3" x2="63.8" y2="150.8"/><rect x="62.7" y="144.5" width="2.3" height="4" fill="#fff"/><line x1="67.4" y1="145" x2="67.4" y2="152.1"/><rect x="65.5" y="145.9" width="3.9" height="4.7" fill="#000"/><line x1="71.2" y1="142.3" x2="71.2" y2="151.6"/><rect x="70.1" y="144.5" width="2.3" height="5.6" fill="#fff"/></g>
<text transform="translate(78,151.8) scale(1.12,1)" x="0" y="0" font-size="11.5" fill="#111" textLength="35.27" lengthAdjust="spacing">SNOW</text>
<text transform="translate(125,151.8) scale(1.12,1)" x="0" y="0" font-size="11.5" fill="#111" textLength="57.14" lengthAdjust="spacing">(Weekly)</text>
<text transform="translate(194.6,151.8) scale(1.12,1)" x="0" y="0" font-size="11.5" fill="#111" textLength="41.96" lengthAdjust="spacing">171.09</text>
<line x1="61.7" y1="161.3" x2="72.7" y2="161.3" stroke="#1c1c98" stroke-width="2" />
<text x="75.4" y="166" font-size="12" fill="#1414a8" font-weight="normal" text-anchor="start" textLength="79.9" lengthAdjust="spacing" >MA(50) 247.75</text>
<line x1="61.7" y1="174.8" x2="72.7" y2="174.8" stroke="#dd1133" stroke-width="2" />
<text x="75.4" y="179.2" font-size="12" fill="#d4103a" font-weight="normal" text-anchor="start" textLength="84.6" lengthAdjust="spacing" >MA(200) undef</text>
<g fill="#666"><rect x="61.7" y="187" width="2" height="5.5"/><rect x="64.5" y="184.5" width="2" height="8"/><rect x="67.3" y="186" width="2" height="6.5"/><rect x="70.1" y="185" width="2" height="7.5"/></g>
<text x="75.4" y="192.5" font-size="11.7" fill="#3a3a3a" font-weight="normal" text-anchor="start" textLength="102" lengthAdjust="spacing" >Volume 21,829,792</text>
<text x="839" y="153.7" font-size="12" fill="#111" font-weight="normal" text-anchor="start" textLength="21.7" lengthAdjust="spacing" >425</text>
<text x="839" y="168.59" font-size="12" fill="#111" font-weight="normal" text-anchor="start" textLength="21.7" lengthAdjust="spacing" >400</text>
<text x="839" y="184.44" font-size="12" fill="#111" font-weight="normal" text-anchor="start" textLength="21.7" lengthAdjust="spacing" >375</text>
<text x="839" y="201.38" font-size="12" fill="#111" font-weight="normal" text-anchor="start" textLength="21.7" lengthAdjust="spacing" >350</text>
<text x="839" y="219.59" font-size="12" fill="#111" font-weight="normal" text-anchor="start" textLength="21.7" lengthAdjust="spacing" >325</text>
<text x="839" y="239.24" font-size="12" fill="#111" font-weight="normal" text-anchor="start" textLength="21.7" lengthAdjust="spacing" >300</text>
<text x="839" y="260.61" font-size="12" fill="#111" font-weight="normal" text-anchor="start" textLength="21.7" lengthAdjust="spacing" >275</text>
<text x="839" y="309.9" font-size="12" fill="#111" font-weight="normal" text-anchor="start" textLength="21.7" lengthAdjust="spacing" >225</text>
<text x="839" y="338.83" font-size="12" fill="#111" font-weight="normal" text-anchor="start" textLength="21.7" lengthAdjust="spacing" >200</text>
<text x="839" y="409.48" font-size="12" fill="#111" font-weight="normal" text-anchor="start" textLength="21.7" lengthAdjust="spacing" >150</text>
<text x="839" y="454.26" font-size="12" fill="#111" font-weight="normal" text-anchor="start" textLength="21.7" lengthAdjust="spacing" >125</text>
<text x="839" y="371.62" font-size="12" fill="#111" font-weight="normal" text-anchor="start" textLength="21.7" lengthAdjust="spacing" >175</text>
<text x="839" y="284.02" font-size="12" fill="#111" font-weight="normal" text-anchor="start" textLength="21.7" lengthAdjust="spacing" >250</text>
<text x="54.4" y="373.7" font-size="12" fill="#111" font-weight="normal" text-anchor="end" textLength="32.2" lengthAdjust="spacing" >100M</text>
<text x="54.4" y="397.5" font-size="12" fill="#111" font-weight="normal" text-anchor="end" textLength="26" lengthAdjust="spacing" >80M</text>
<text x="54.4" y="421.3" font-size="12" fill="#111" font-weight="normal" text-anchor="end" textLength="26" lengthAdjust="spacing" >60M</text>
<text x="54.4" y="445.1" font-size="12" fill="#111" font-weight="normal" text-anchor="end" textLength="26" lengthAdjust="spacing" >40M</text>
<text x="54.4" y="468.9" font-size="12" fill="#111" font-weight="normal" text-anchor="end" textLength="26" lengthAdjust="spacing" >20M</text>
<path d="M831.8,281.3 L837.3,274.7 H881.5 V288.1 H837.3 Z" fill="#fff" stroke="#1c1c98" stroke-width="1.4"/>
<text x="837.9" y="285.8" font-size="12" fill="#000" font-weight="normal" text-anchor="start" textLength="40.8" lengthAdjust="spacing" >247.75</text>
<path d="M832.1,372.5 L837.5,365.6 H881.4 V380 H837.5 Z" fill="#fff" stroke="#000" stroke-width="1.6"/>
<text x="837.9" y="377.7" font-size="13" fill="#000" font-weight="bold" text-anchor="start" textLength="40.3" lengthAdjust="spacing" >171.09</text>
<path d="M831.8,461.3 L837.3,455.3 H884 V468.4 H837.3 Z" fill="#fff" stroke="#000" stroke-width="1.2"/>
<text x="837.9" y="465.8" font-size="12" fill="#000" font-weight="normal" text-anchor="start" textLength="59.5" lengthAdjust="spacing" >21829792</text>
<text x="84.84" y="502.4" font-size="11" fill="#111" font-weight="normal" text-anchor="middle" textLength="19.9" lengthAdjust="spacing" >Oct</text>
<text x="115.7" y="502.4" font-size="11" fill="#111" font-weight="normal" text-anchor="middle" textLength="22.4" lengthAdjust="spacing" >Nov</text>
<text x="154.28" y="502.4" font-size="11" fill="#111" font-weight="normal" text-anchor="middle" textLength="22.4" lengthAdjust="spacing" >Dec</text>
<text x="184.34" y="502.6" font-size="13" fill="#000" font-weight="bold" text-anchor="middle" textLength="28.6" lengthAdjust="spacing" >2021</text>
<text x="216" y="502.4" font-size="11" fill="#111" font-weight="normal" text-anchor="middle" textLength="21.8" lengthAdjust="spacing" >Feb</text>
<text x="246.86" y="502.4" font-size="11" fill="#111" font-weight="normal" text-anchor="middle" textLength="21.8" lengthAdjust="spacing" >Mar</text>
<text x="285.44" y="502.4" font-size="11" fill="#111" font-weight="normal" text-anchor="middle" textLength="19.9" lengthAdjust="spacing" >Apr</text>
<text x="316.3" y="502.4" font-size="11" fill="#111" font-weight="normal" text-anchor="middle" textLength="23.6" lengthAdjust="spacing" >May</text>
<text x="347.16" y="502.4" font-size="11" fill="#111" font-weight="normal" text-anchor="middle" textLength="20.6" lengthAdjust="spacing" >Jun</text>
<text x="385.73" y="502.4" font-size="11" fill="#111" font-weight="normal" text-anchor="middle" textLength="16.9" lengthAdjust="spacing" >Jul</text>
<text x="416.59" y="502.4" font-size="11" fill="#111" font-weight="normal" text-anchor="middle" textLength="22.4" lengthAdjust="spacing" >Aug</text>
<text x="455.17" y="502.4" font-size="11" fill="#111" font-weight="normal" text-anchor="middle" textLength="22.4" lengthAdjust="spacing" >Sep</text>
<text x="486.03" y="502.4" font-size="11" fill="#111" font-weight="normal" text-anchor="middle" textLength="19.9" lengthAdjust="spacing" >Oct</text>
<text x="516.88" y="502.4" font-size="11" fill="#111" font-weight="normal" text-anchor="middle" textLength="22.4" lengthAdjust="spacing" >Nov</text>
<text x="555.46" y="502.4" font-size="11" fill="#111" font-weight="normal" text-anchor="middle" textLength="22.4" lengthAdjust="spacing" >Dec</text>
<text x="585.52" y="502.6" font-size="13" fill="#000" font-weight="bold" text-anchor="middle" textLength="28.6" lengthAdjust="spacing" >2022</text>
<text x="624.89" y="502.4" font-size="11" fill="#111" font-weight="normal" text-anchor="middle" textLength="21.8" lengthAdjust="spacing" >Feb</text>
<text x="655.75" y="502.4" font-size="11" fill="#111" font-weight="normal" text-anchor="middle" textLength="21.8" lengthAdjust="spacing" >Mar</text>
<text x="686.62" y="502.4" font-size="11" fill="#111" font-weight="normal" text-anchor="middle" textLength="19.9" lengthAdjust="spacing" >Apr</text>
<text x="717.48" y="502.4" font-size="11" fill="#111" font-weight="normal" text-anchor="middle" textLength="23.6" lengthAdjust="spacing" >May</text>
<text x="756.05" y="502.4" font-size="11" fill="#111" font-weight="normal" text-anchor="middle" textLength="20.6" lengthAdjust="spacing" >Jun</text>
<text x="786.91" y="502.4" font-size="11" fill="#111" font-weight="normal" text-anchor="middle" textLength="16.9" lengthAdjust="spacing" >Jul</text>
<text x="817.77" y="502.4" font-size="11" fill="#111" font-weight="normal" text-anchor="middle" textLength="22.4" lengthAdjust="spacing" >Aug</text>
<line x1="62.4" y1="515.5" x2="72.7" y2="515.5" stroke="#000" stroke-width="2" />
<text transform="translate(78.1,520) scale(1.12,1)" x="0" y="0" font-size="11.5" fill="#111" textLength="94.11" lengthAdjust="spacing">MACD(12,26,9)</text>
<text transform="translate(189.7,520) scale(1.12,1)" x="0" y="0" font-size="11.5" fill="#111" textLength="47.32" lengthAdjust="spacing">-23.697</text>
<text x="245" y="520" font-size="11.5" fill="#ff2020" font-weight="normal" text-anchor="start" >,</text>
<text transform="translate(255.1,520) scale(1.12,1)" x="0" y="0" font-size="11.5" fill="#ff2020" textLength="48.3" lengthAdjust="spacing">-31.487</text>
<text x="310.8" y="520" font-size="11.5" fill="#3399cc" font-weight="normal" text-anchor="start" >,</text>
<text transform="translate(321.4,520) scale(1.12,1)" x="0" y="0" font-size="11.5" fill="#3399cc" textLength="33.75" lengthAdjust="spacing">7.790</text>
<text x="857" y="520.75" font-size="12" fill="#111" font-weight="normal" text-anchor="end" >30</text>
<text x="857" y="534.8" font-size="12" fill="#111" font-weight="normal" text-anchor="end" >20</text>
<text x="857" y="548.85" font-size="12" fill="#111" font-weight="normal" text-anchor="end" >10</text>
<text x="857" y="562.9" font-size="12" fill="#111" font-weight="normal" text-anchor="end" >0</text>
<text x="857" y="576.95" font-size="12" fill="#111" font-weight="normal" text-anchor="end" >-10</text>
<text x="857" y="591" font-size="12" fill="#111" font-weight="normal" text-anchor="end" >-20</text>
<text x="857" y="605.05" font-size="12" fill="#111" font-weight="normal" text-anchor="end" >-30</text>
<text x="857" y="619.1" font-size="12" fill="#111" font-weight="normal" text-anchor="end" >-40</text>
<path d="M831.9,547.4 L837.3,541.5 H874 V553.3 H837.3 Z" fill="#fff" stroke="#3a78b8" stroke-width="1.3"/>
<text x="838" y="551.6" font-size="12" fill="#000" font-weight="normal" text-anchor="start" textLength="34" lengthAdjust="spacing" >7.790</text>
<path d="M832,591.3 L837.5,585.1 H884 V597.3 H837.5 Z" fill="#fff" stroke="#000" stroke-width="1.3"/>
<text x="837.5" y="595.4" font-size="12" fill="#000" font-weight="normal" text-anchor="start" textLength="45" lengthAdjust="spacing" >-23.697</text>
<path d="M831.8,602.9 L837.5,597.6 H884 V609.3 H837.5 Z" fill="#fff" stroke="#ff2020" stroke-width="1.3"/>
<text x="837.5" y="607.3" font-size="12" fill="#000" font-weight="normal" text-anchor="start" textLength="45" lengthAdjust="spacing" >-31.487</text>
</g>
</svg>
</body></html>
